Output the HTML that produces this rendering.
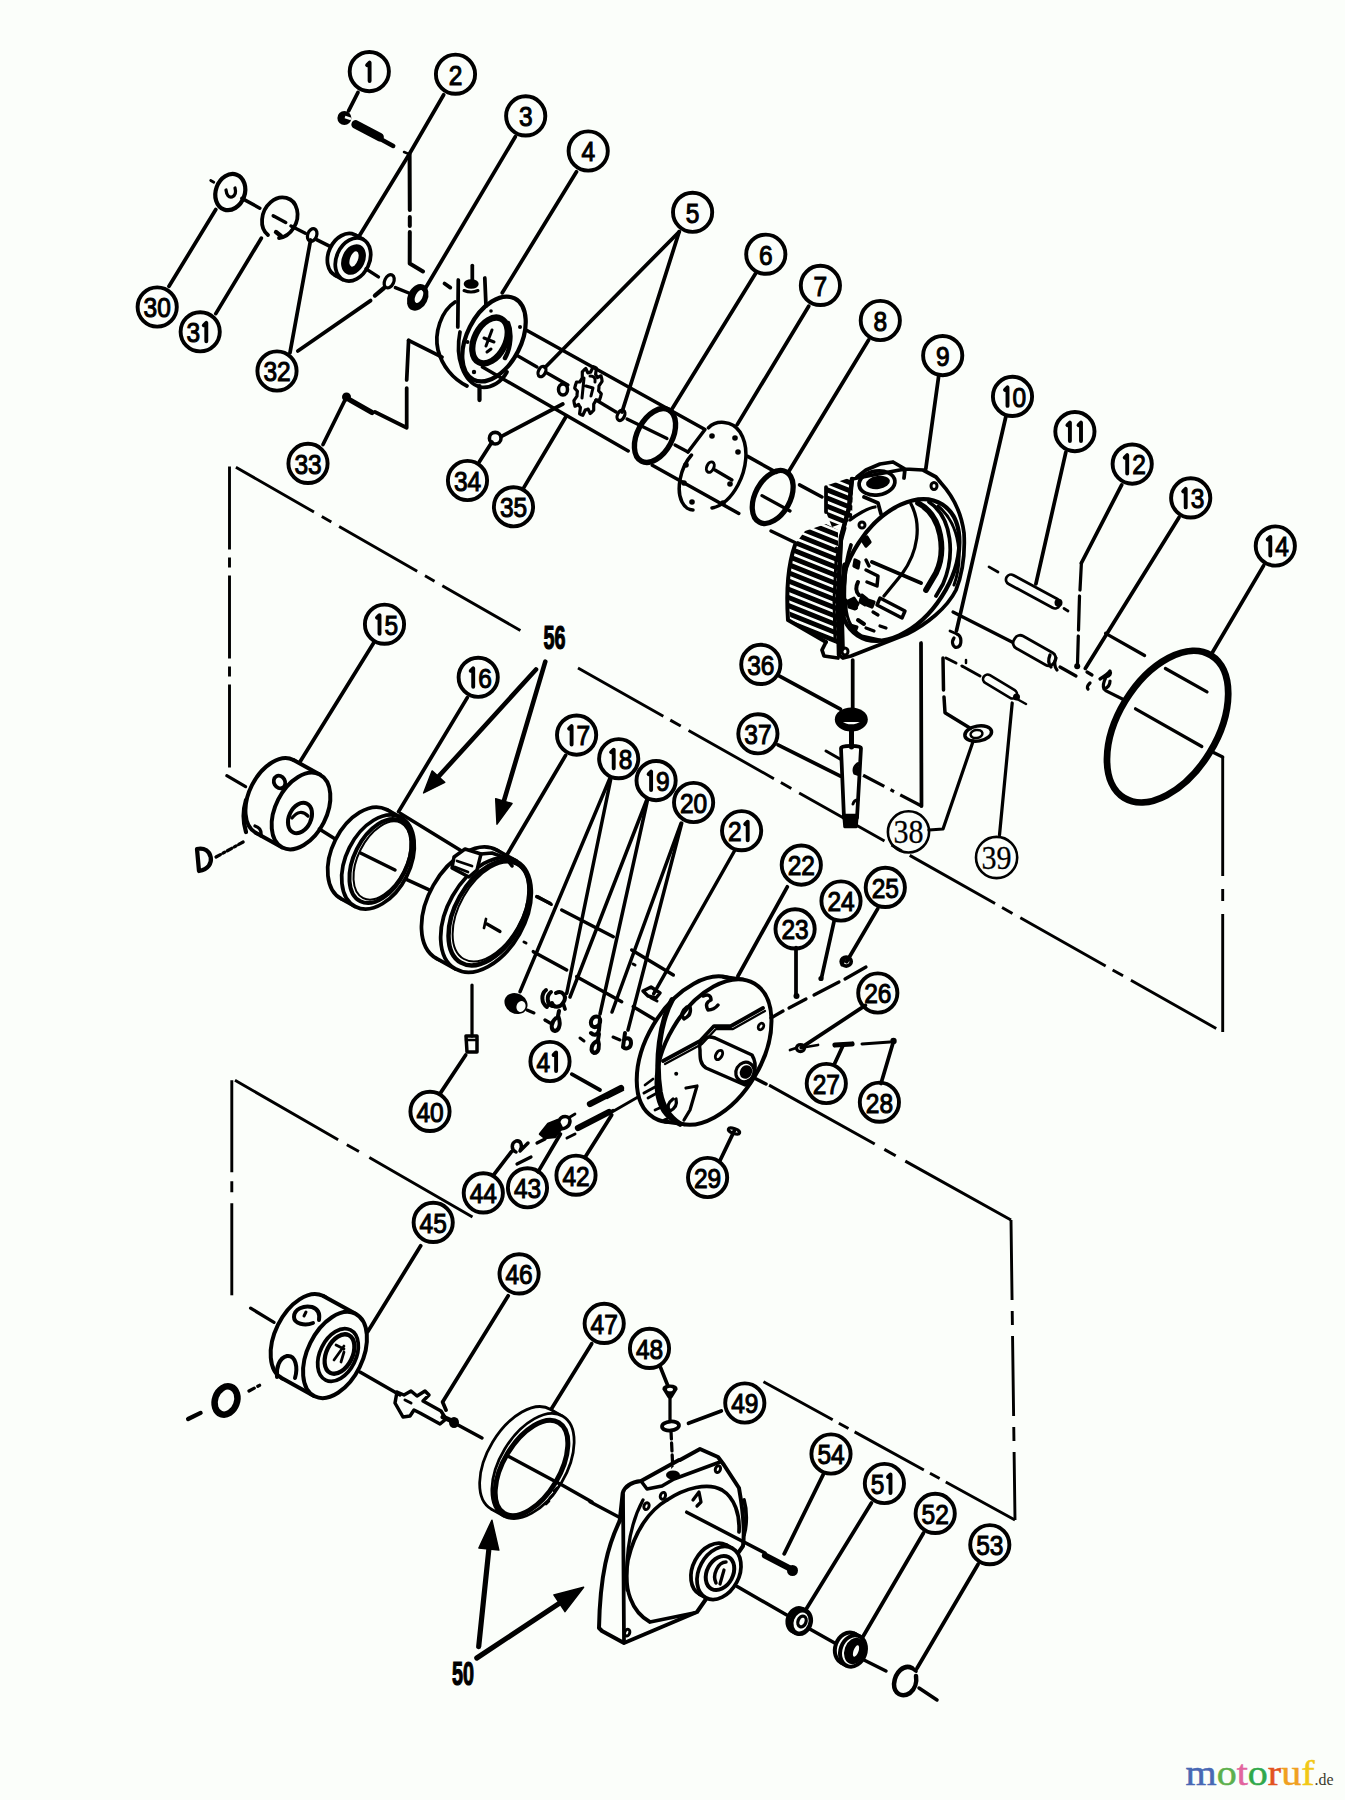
<!DOCTYPE html>
<html><head><meta charset="utf-8"><title>Parts diagram</title>
<style>html,body{margin:0;padding:0;background:#fbfefa;}svg{display:block}</style></head>
<body><svg width="1345" height="1800" viewBox="0 0 1345 1800">
<circle cx="369.3" cy="71.6" r="19.6" fill="none" stroke="#000" stroke-width="3.9"/>
<path d="M367.1,65.1 L369.6,62.6 L369.6,81.1" fill="none" stroke="#000" stroke-width="3.9" stroke-linecap="round" stroke-linejoin="round"/>
<circle cx="455.5" cy="74.2" r="19.6" fill="none" stroke="#000" stroke-width="3.9"/>
<text transform="translate(455.5,84.5) scale(0.86,1)" font-family="Liberation Sans" font-size="28.5" text-anchor="middle" stroke="#000" stroke-width="1.1">2</text>
<circle cx="525.7" cy="115.9" r="19.6" fill="none" stroke="#000" stroke-width="3.9"/>
<text transform="translate(525.7,126.2) scale(0.86,1)" font-family="Liberation Sans" font-size="28.5" text-anchor="middle" stroke="#000" stroke-width="1.1">3</text>
<circle cx="588.2" cy="151" r="19.6" fill="none" stroke="#000" stroke-width="3.9"/>
<text transform="translate(588.2,161.3) scale(0.86,1)" font-family="Liberation Sans" font-size="28.5" text-anchor="middle" stroke="#000" stroke-width="1.1">4</text>
<circle cx="692.6" cy="212.3" r="19.6" fill="none" stroke="#000" stroke-width="3.9"/>
<text transform="translate(692.6,222.6) scale(0.86,1)" font-family="Liberation Sans" font-size="28.5" text-anchor="middle" stroke="#000" stroke-width="1.1">5</text>
<circle cx="765.8" cy="254.2" r="19.6" fill="none" stroke="#000" stroke-width="3.9"/>
<text transform="translate(765.8,264.5) scale(0.86,1)" font-family="Liberation Sans" font-size="28.5" text-anchor="middle" stroke="#000" stroke-width="1.1">6</text>
<circle cx="820.4" cy="285.4" r="19.6" fill="none" stroke="#000" stroke-width="3.9"/>
<text transform="translate(820.4,295.7) scale(0.86,1)" font-family="Liberation Sans" font-size="28.5" text-anchor="middle" stroke="#000" stroke-width="1.1">7</text>
<circle cx="880.3" cy="320.5" r="19.6" fill="none" stroke="#000" stroke-width="3.9"/>
<text transform="translate(880.3,330.8) scale(0.86,1)" font-family="Liberation Sans" font-size="28.5" text-anchor="middle" stroke="#000" stroke-width="1.1">8</text>
<circle cx="942.7" cy="355.6" r="19.6" fill="none" stroke="#000" stroke-width="3.9"/>
<text transform="translate(942.7,365.9) scale(0.86,1)" font-family="Liberation Sans" font-size="28.5" text-anchor="middle" stroke="#000" stroke-width="1.1">9</text>
<circle cx="1012.5" cy="396.4" r="19.6" fill="none" stroke="#000" stroke-width="3.9"/>
<path d="M1005.0,389.9 L1007.5,387.4 L1007.5,405.9" fill="none" stroke="#000" stroke-width="3.9" stroke-linecap="round" stroke-linejoin="round"/>
<text transform="translate(1019.3,406.7) scale(0.86,1)" font-family="Liberation Sans" font-size="28.5" text-anchor="middle" stroke="#000" stroke-width="1.1">0</text>
<circle cx="1074.9" cy="431.6" r="19.6" fill="none" stroke="#000" stroke-width="3.9"/>
<path d="M1067.4,425.1 L1069.9,422.6 L1069.9,441.1" fill="none" stroke="#000" stroke-width="3.9" stroke-linecap="round" stroke-linejoin="round"/>
<path d="M1078.5,425.1 L1081.0,422.6 L1081.0,441.1" fill="none" stroke="#000" stroke-width="3.9" stroke-linecap="round" stroke-linejoin="round"/>
<circle cx="1132.2" cy="464.1" r="19.6" fill="none" stroke="#000" stroke-width="3.9"/>
<path d="M1124.7,457.6 L1127.2,455.1 L1127.2,473.6" fill="none" stroke="#000" stroke-width="3.9" stroke-linecap="round" stroke-linejoin="round"/>
<text transform="translate(1139.0,474.4) scale(0.86,1)" font-family="Liberation Sans" font-size="28.5" text-anchor="middle" stroke="#000" stroke-width="1.1">2</text>
<circle cx="1190.7" cy="497.9" r="19.6" fill="none" stroke="#000" stroke-width="3.9"/>
<path d="M1183.2,491.4 L1185.7,488.9 L1185.7,507.4" fill="none" stroke="#000" stroke-width="3.9" stroke-linecap="round" stroke-linejoin="round"/>
<text transform="translate(1197.5,508.2) scale(0.86,1)" font-family="Liberation Sans" font-size="28.5" text-anchor="middle" stroke="#000" stroke-width="1.1">3</text>
<circle cx="1275.3" cy="546" r="19.6" fill="none" stroke="#000" stroke-width="3.9"/>
<path d="M1267.8,539.5 L1270.3,537.0 L1270.3,555.5" fill="none" stroke="#000" stroke-width="3.9" stroke-linecap="round" stroke-linejoin="round"/>
<text transform="translate(1282.1,556.3) scale(0.86,1)" font-family="Liberation Sans" font-size="28.5" text-anchor="middle" stroke="#000" stroke-width="1.1">4</text>
<circle cx="384.5" cy="624.2" r="19.6" fill="none" stroke="#000" stroke-width="3.9"/>
<path d="M377.0,617.7 L379.5,615.2 L379.5,633.7" fill="none" stroke="#000" stroke-width="3.9" stroke-linecap="round" stroke-linejoin="round"/>
<text transform="translate(391.3,634.5) scale(0.86,1)" font-family="Liberation Sans" font-size="28.5" text-anchor="middle" stroke="#000" stroke-width="1.1">5</text>
<circle cx="478.2" cy="677.3" r="19.6" fill="none" stroke="#000" stroke-width="3.9"/>
<path d="M470.7,670.8 L473.2,668.3 L473.2,686.8" fill="none" stroke="#000" stroke-width="3.9" stroke-linecap="round" stroke-linejoin="round"/>
<text transform="translate(485.0,687.6) scale(0.86,1)" font-family="Liberation Sans" font-size="28.5" text-anchor="middle" stroke="#000" stroke-width="1.1">6</text>
<circle cx="576.6" cy="735.1" r="19.6" fill="none" stroke="#000" stroke-width="3.9"/>
<path d="M569.1,728.6 L571.6,726.1 L571.6,744.6" fill="none" stroke="#000" stroke-width="3.9" stroke-linecap="round" stroke-linejoin="round"/>
<text transform="translate(583.4,745.4) scale(0.86,1)" font-family="Liberation Sans" font-size="28.5" text-anchor="middle" stroke="#000" stroke-width="1.1">7</text>
<circle cx="618.7" cy="758.7" r="19.6" fill="none" stroke="#000" stroke-width="3.9"/>
<path d="M611.2,752.2 L613.7,749.7 L613.7,768.2" fill="none" stroke="#000" stroke-width="3.9" stroke-linecap="round" stroke-linejoin="round"/>
<text transform="translate(625.5,769.0) scale(0.86,1)" font-family="Liberation Sans" font-size="28.5" text-anchor="middle" stroke="#000" stroke-width="1.1">8</text>
<circle cx="656.1" cy="780.6" r="19.6" fill="none" stroke="#000" stroke-width="3.9"/>
<path d="M648.6,774.1 L651.1,771.6 L651.1,790.1" fill="none" stroke="#000" stroke-width="3.9" stroke-linecap="round" stroke-linejoin="round"/>
<text transform="translate(662.9,790.9) scale(0.86,1)" font-family="Liberation Sans" font-size="28.5" text-anchor="middle" stroke="#000" stroke-width="1.1">9</text>
<circle cx="693.6" cy="802.5" r="19.6" fill="none" stroke="#000" stroke-width="3.9"/>
<text transform="translate(686.8,812.8) scale(0.86,1)" font-family="Liberation Sans" font-size="28.5" text-anchor="middle" stroke="#000" stroke-width="1.1">2</text>
<text transform="translate(700.4,812.8) scale(0.86,1)" font-family="Liberation Sans" font-size="28.5" text-anchor="middle" stroke="#000" stroke-width="1.1">0</text>
<circle cx="741.6" cy="830.7" r="19.6" fill="none" stroke="#000" stroke-width="3.9"/>
<text transform="translate(734.8,841.0) scale(0.86,1)" font-family="Liberation Sans" font-size="28.5" text-anchor="middle" stroke="#000" stroke-width="1.1">2</text>
<path d="M745.2,824.2 L747.7,821.7 L747.7,840.2" fill="none" stroke="#000" stroke-width="3.9" stroke-linecap="round" stroke-linejoin="round"/>
<circle cx="801.3" cy="865.1" r="19.6" fill="none" stroke="#000" stroke-width="3.9"/>
<text transform="translate(794.5,875.4) scale(0.86,1)" font-family="Liberation Sans" font-size="28.5" text-anchor="middle" stroke="#000" stroke-width="1.1">2</text>
<text transform="translate(808.1,875.4) scale(0.86,1)" font-family="Liberation Sans" font-size="28.5" text-anchor="middle" stroke="#000" stroke-width="1.1">2</text>
<circle cx="795.1" cy="928.9" r="19.6" fill="none" stroke="#000" stroke-width="3.9"/>
<text transform="translate(788.3,939.2) scale(0.86,1)" font-family="Liberation Sans" font-size="28.5" text-anchor="middle" stroke="#000" stroke-width="1.1">2</text>
<text transform="translate(801.9,939.2) scale(0.86,1)" font-family="Liberation Sans" font-size="28.5" text-anchor="middle" stroke="#000" stroke-width="1.1">3</text>
<circle cx="841" cy="901" r="19.6" fill="none" stroke="#000" stroke-width="3.9"/>
<text transform="translate(834.2,911.3) scale(0.86,1)" font-family="Liberation Sans" font-size="28.5" text-anchor="middle" stroke="#000" stroke-width="1.1">2</text>
<text transform="translate(847.8,911.3) scale(0.86,1)" font-family="Liberation Sans" font-size="28.5" text-anchor="middle" stroke="#000" stroke-width="1.1">4</text>
<circle cx="885.3" cy="887.4" r="19.6" fill="none" stroke="#000" stroke-width="3.9"/>
<text transform="translate(878.5,897.7) scale(0.86,1)" font-family="Liberation Sans" font-size="28.5" text-anchor="middle" stroke="#000" stroke-width="1.1">2</text>
<text transform="translate(892.1,897.7) scale(0.86,1)" font-family="Liberation Sans" font-size="28.5" text-anchor="middle" stroke="#000" stroke-width="1.1">5</text>
<circle cx="877.8" cy="993" r="19.6" fill="none" stroke="#000" stroke-width="3.9"/>
<text transform="translate(871.0,1003.3) scale(0.86,1)" font-family="Liberation Sans" font-size="28.5" text-anchor="middle" stroke="#000" stroke-width="1.1">2</text>
<text transform="translate(884.6,1003.3) scale(0.86,1)" font-family="Liberation Sans" font-size="28.5" text-anchor="middle" stroke="#000" stroke-width="1.1">6</text>
<circle cx="826.3" cy="1083.5" r="19.6" fill="none" stroke="#000" stroke-width="3.9"/>
<text transform="translate(819.5,1093.8) scale(0.86,1)" font-family="Liberation Sans" font-size="28.5" text-anchor="middle" stroke="#000" stroke-width="1.1">2</text>
<text transform="translate(833.1,1093.8) scale(0.86,1)" font-family="Liberation Sans" font-size="28.5" text-anchor="middle" stroke="#000" stroke-width="1.1">7</text>
<circle cx="879.4" cy="1102.2" r="19.6" fill="none" stroke="#000" stroke-width="3.9"/>
<text transform="translate(872.6,1112.5) scale(0.86,1)" font-family="Liberation Sans" font-size="28.5" text-anchor="middle" stroke="#000" stroke-width="1.1">2</text>
<text transform="translate(886.2,1112.5) scale(0.86,1)" font-family="Liberation Sans" font-size="28.5" text-anchor="middle" stroke="#000" stroke-width="1.1">8</text>
<circle cx="707.6" cy="1177.5" r="19.6" fill="none" stroke="#000" stroke-width="3.9"/>
<text transform="translate(700.8,1187.8) scale(0.86,1)" font-family="Liberation Sans" font-size="28.5" text-anchor="middle" stroke="#000" stroke-width="1.1">2</text>
<text transform="translate(714.4,1187.8) scale(0.86,1)" font-family="Liberation Sans" font-size="28.5" text-anchor="middle" stroke="#000" stroke-width="1.1">9</text>
<circle cx="157.2" cy="307" r="19.6" fill="none" stroke="#000" stroke-width="3.9"/>
<text transform="translate(150.4,317.3) scale(0.86,1)" font-family="Liberation Sans" font-size="28.5" text-anchor="middle" stroke="#000" stroke-width="1.1">3</text>
<text transform="translate(164.0,317.3) scale(0.86,1)" font-family="Liberation Sans" font-size="28.5" text-anchor="middle" stroke="#000" stroke-width="1.1">0</text>
<circle cx="200.2" cy="331.8" r="19.6" fill="none" stroke="#000" stroke-width="3.9"/>
<text transform="translate(193.4,342.1) scale(0.86,1)" font-family="Liberation Sans" font-size="28.5" text-anchor="middle" stroke="#000" stroke-width="1.1">3</text>
<path d="M203.8,325.3 L206.3,322.8 L206.3,341.3" fill="none" stroke="#000" stroke-width="3.9" stroke-linecap="round" stroke-linejoin="round"/>
<circle cx="277" cy="371" r="19.6" fill="none" stroke="#000" stroke-width="3.9"/>
<text transform="translate(270.2,381.3) scale(0.86,1)" font-family="Liberation Sans" font-size="28.5" text-anchor="middle" stroke="#000" stroke-width="1.1">3</text>
<text transform="translate(283.8,381.3) scale(0.86,1)" font-family="Liberation Sans" font-size="28.5" text-anchor="middle" stroke="#000" stroke-width="1.1">2</text>
<circle cx="308" cy="463.4" r="19.6" fill="none" stroke="#000" stroke-width="3.9"/>
<text transform="translate(301.2,473.7) scale(0.86,1)" font-family="Liberation Sans" font-size="28.5" text-anchor="middle" stroke="#000" stroke-width="1.1">3</text>
<text transform="translate(314.8,473.7) scale(0.86,1)" font-family="Liberation Sans" font-size="28.5" text-anchor="middle" stroke="#000" stroke-width="1.1">3</text>
<circle cx="467.5" cy="480.5" r="19.6" fill="none" stroke="#000" stroke-width="3.9"/>
<text transform="translate(460.7,490.8) scale(0.86,1)" font-family="Liberation Sans" font-size="28.5" text-anchor="middle" stroke="#000" stroke-width="1.1">3</text>
<text transform="translate(474.3,490.8) scale(0.86,1)" font-family="Liberation Sans" font-size="28.5" text-anchor="middle" stroke="#000" stroke-width="1.1">4</text>
<circle cx="513.5" cy="506.8" r="19.6" fill="none" stroke="#000" stroke-width="3.9"/>
<text transform="translate(506.7,517.1) scale(0.86,1)" font-family="Liberation Sans" font-size="28.5" text-anchor="middle" stroke="#000" stroke-width="1.1">3</text>
<text transform="translate(520.3,517.1) scale(0.86,1)" font-family="Liberation Sans" font-size="28.5" text-anchor="middle" stroke="#000" stroke-width="1.1">5</text>
<circle cx="760.8" cy="664.4" r="19.6" fill="none" stroke="#000" stroke-width="3.9"/>
<text transform="translate(754.0,674.7) scale(0.86,1)" font-family="Liberation Sans" font-size="28.5" text-anchor="middle" stroke="#000" stroke-width="1.1">3</text>
<text transform="translate(767.6,674.7) scale(0.86,1)" font-family="Liberation Sans" font-size="28.5" text-anchor="middle" stroke="#000" stroke-width="1.1">6</text>
<circle cx="757.9" cy="733.8" r="19.6" fill="none" stroke="#000" stroke-width="3.9"/>
<text transform="translate(751.1,744.1) scale(0.86,1)" font-family="Liberation Sans" font-size="28.5" text-anchor="middle" stroke="#000" stroke-width="1.1">3</text>
<text transform="translate(764.7,744.1) scale(0.86,1)" font-family="Liberation Sans" font-size="28.5" text-anchor="middle" stroke="#000" stroke-width="1.1">7</text>
<circle cx="430" cy="1111.4" r="19.6" fill="none" stroke="#000" stroke-width="3.9"/>
<text transform="translate(423.2,1121.7) scale(0.86,1)" font-family="Liberation Sans" font-size="28.5" text-anchor="middle" stroke="#000" stroke-width="1.1">4</text>
<text transform="translate(436.8,1121.7) scale(0.86,1)" font-family="Liberation Sans" font-size="28.5" text-anchor="middle" stroke="#000" stroke-width="1.1">0</text>
<circle cx="550" cy="1061.5" r="19.6" fill="none" stroke="#000" stroke-width="3.9"/>
<text transform="translate(543.2,1071.8) scale(0.86,1)" font-family="Liberation Sans" font-size="28.5" text-anchor="middle" stroke="#000" stroke-width="1.1">4</text>
<path d="M553.6,1055.0 L556.1,1052.5 L556.1,1071.0" fill="none" stroke="#000" stroke-width="3.9" stroke-linecap="round" stroke-linejoin="round"/>
<circle cx="576" cy="1175.2" r="19.6" fill="none" stroke="#000" stroke-width="3.9"/>
<text transform="translate(569.2,1185.5) scale(0.86,1)" font-family="Liberation Sans" font-size="28.5" text-anchor="middle" stroke="#000" stroke-width="1.1">4</text>
<text transform="translate(582.8,1185.5) scale(0.86,1)" font-family="Liberation Sans" font-size="28.5" text-anchor="middle" stroke="#000" stroke-width="1.1">2</text>
<circle cx="527.5" cy="1187.8" r="19.6" fill="none" stroke="#000" stroke-width="3.9"/>
<text transform="translate(520.7,1198.1) scale(0.86,1)" font-family="Liberation Sans" font-size="28.5" text-anchor="middle" stroke="#000" stroke-width="1.1">4</text>
<text transform="translate(534.3,1198.1) scale(0.86,1)" font-family="Liberation Sans" font-size="28.5" text-anchor="middle" stroke="#000" stroke-width="1.1">3</text>
<circle cx="483.3" cy="1192.9" r="19.6" fill="none" stroke="#000" stroke-width="3.9"/>
<text transform="translate(476.5,1203.2) scale(0.86,1)" font-family="Liberation Sans" font-size="28.5" text-anchor="middle" stroke="#000" stroke-width="1.1">4</text>
<text transform="translate(490.1,1203.2) scale(0.86,1)" font-family="Liberation Sans" font-size="28.5" text-anchor="middle" stroke="#000" stroke-width="1.1">4</text>
<circle cx="433.2" cy="1222.4" r="19.6" fill="none" stroke="#000" stroke-width="3.9"/>
<text transform="translate(426.4,1232.7) scale(0.86,1)" font-family="Liberation Sans" font-size="28.5" text-anchor="middle" stroke="#000" stroke-width="1.1">4</text>
<text transform="translate(440.0,1232.7) scale(0.86,1)" font-family="Liberation Sans" font-size="28.5" text-anchor="middle" stroke="#000" stroke-width="1.1">5</text>
<circle cx="519.1" cy="1273.9" r="19.6" fill="none" stroke="#000" stroke-width="3.9"/>
<text transform="translate(512.3,1284.2) scale(0.86,1)" font-family="Liberation Sans" font-size="28.5" text-anchor="middle" stroke="#000" stroke-width="1.1">4</text>
<text transform="translate(525.9,1284.2) scale(0.86,1)" font-family="Liberation Sans" font-size="28.5" text-anchor="middle" stroke="#000" stroke-width="1.1">6</text>
<circle cx="604.2" cy="1323.4" r="19.6" fill="none" stroke="#000" stroke-width="3.9"/>
<text transform="translate(597.4,1333.7) scale(0.86,1)" font-family="Liberation Sans" font-size="28.5" text-anchor="middle" stroke="#000" stroke-width="1.1">4</text>
<text transform="translate(611.0,1333.7) scale(0.86,1)" font-family="Liberation Sans" font-size="28.5" text-anchor="middle" stroke="#000" stroke-width="1.1">7</text>
<circle cx="649.5" cy="1348.4" r="19.6" fill="none" stroke="#000" stroke-width="3.9"/>
<text transform="translate(642.7,1358.7) scale(0.86,1)" font-family="Liberation Sans" font-size="28.5" text-anchor="middle" stroke="#000" stroke-width="1.1">4</text>
<text transform="translate(656.3,1358.7) scale(0.86,1)" font-family="Liberation Sans" font-size="28.5" text-anchor="middle" stroke="#000" stroke-width="1.1">8</text>
<circle cx="744.8" cy="1403" r="19.6" fill="none" stroke="#000" stroke-width="3.9"/>
<text transform="translate(738.0,1413.3) scale(0.86,1)" font-family="Liberation Sans" font-size="28.5" text-anchor="middle" stroke="#000" stroke-width="1.1">4</text>
<text transform="translate(751.6,1413.3) scale(0.86,1)" font-family="Liberation Sans" font-size="28.5" text-anchor="middle" stroke="#000" stroke-width="1.1">9</text>
<circle cx="831" cy="1454" r="19.6" fill="none" stroke="#000" stroke-width="3.9"/>
<text transform="translate(824.2,1464.3) scale(0.86,1)" font-family="Liberation Sans" font-size="28.5" text-anchor="middle" stroke="#000" stroke-width="1.1">5</text>
<text transform="translate(837.8,1464.3) scale(0.86,1)" font-family="Liberation Sans" font-size="28.5" text-anchor="middle" stroke="#000" stroke-width="1.1">4</text>
<circle cx="884.4" cy="1483.5" r="19.6" fill="none" stroke="#000" stroke-width="3.9"/>
<text transform="translate(877.6,1493.8) scale(0.86,1)" font-family="Liberation Sans" font-size="28.5" text-anchor="middle" stroke="#000" stroke-width="1.1">5</text>
<path d="M888.0,1477.0 L890.5,1474.5 L890.5,1493.0" fill="none" stroke="#000" stroke-width="3.9" stroke-linecap="round" stroke-linejoin="round"/>
<circle cx="935.2" cy="1513.4" r="19.6" fill="none" stroke="#000" stroke-width="3.9"/>
<text transform="translate(928.4,1523.7) scale(0.86,1)" font-family="Liberation Sans" font-size="28.5" text-anchor="middle" stroke="#000" stroke-width="1.1">5</text>
<text transform="translate(942.0,1523.7) scale(0.86,1)" font-family="Liberation Sans" font-size="28.5" text-anchor="middle" stroke="#000" stroke-width="1.1">2</text>
<circle cx="989.8" cy="1544.7" r="19.6" fill="none" stroke="#000" stroke-width="3.9"/>
<text transform="translate(983.0,1555.0) scale(0.86,1)" font-family="Liberation Sans" font-size="28.5" text-anchor="middle" stroke="#000" stroke-width="1.1">5</text>
<text transform="translate(996.6,1555.0) scale(0.86,1)" font-family="Liberation Sans" font-size="28.5" text-anchor="middle" stroke="#000" stroke-width="1.1">3</text>
<circle cx="908.5" cy="831.9" r="20.6" fill="none" stroke="#000" stroke-width="2.6"/>
<text x="908.5" y="843.4" font-family="Liberation Serif" font-size="34" text-anchor="middle" stroke="#000" stroke-width="0.3" textLength="30" lengthAdjust="spacingAndGlyphs">38</text>
<circle cx="996.6" cy="857.5" r="20.6" fill="none" stroke="#000" stroke-width="2.6"/>
<text x="996.6" y="869.0" font-family="Liberation Serif" font-size="34" text-anchor="middle" stroke="#000" stroke-width="0.3" textLength="30" lengthAdjust="spacingAndGlyphs">39</text>
<text x="554.5" y="649" font-family="Liberation Sans" font-weight="bold" font-size="32.5" text-anchor="middle" stroke="#000" stroke-width="1.2" textLength="22" lengthAdjust="spacingAndGlyphs">56</text>
<text x="462.9" y="1684.5" font-family="Liberation Sans" font-weight="bold" font-size="32.5" text-anchor="middle" stroke="#000" stroke-width="1.2" textLength="22" lengthAdjust="spacingAndGlyphs">50</text>
<text x="1185.5" y="1785" font-family="Liberation Serif" font-size="36.5" stroke-width="0.5" textLength="129" lengthAdjust="spacingAndGlyphs"><tspan fill="#4868b4" stroke="#4868b4">m</tspan><tspan fill="#5cb04c" stroke="#5cb04c">o</tspan><tspan fill="#e2649e" stroke="#e2649e">t</tspan><tspan fill="#2fa84a" stroke="#2fa84a">o</tspan><tspan fill="#e2541e" stroke="#e2541e">r</tspan><tspan fill="#f0a020" stroke="#f0a020">u</tspan><tspan fill="#f2c814" stroke="#f2c814">f</tspan></text>
<text x="1314.5" y="1785" font-family="Liberation Serif" font-size="16.5" fill="#3a3a2a" textLength="19" lengthAdjust="spacingAndGlyphs">.de</text>
<polyline points="358,92.4 348.6,110.8" fill="none" stroke="#000" stroke-width="3.75" stroke-linecap="round" stroke-linejoin="round"/>
<circle cx="344.4" cy="118" r="7" fill="#000"/>
<path d="M345,117 L351,119" stroke="#fbfefa" stroke-width="2.5"/>
<polyline points="355.7,124.5 379.5,137" fill="none" stroke="#000" stroke-width="8.75" stroke-linecap="round" stroke-linejoin="round"/>
<polyline points="379.5,138.5 393.2,145.9" fill="none" stroke="#000" stroke-width="4.50" stroke-linecap="round" stroke-linejoin="round"/>
<polyline points="443.7,94.8 409.2,154.2 358.8,236.7" fill="none" stroke="#000" stroke-width="3.75" stroke-linecap="round" stroke-linejoin="round"/>
<polyline points="404,152 409.2,154.2" fill="none" stroke="#000" stroke-width="2.50" stroke-linecap="round" stroke-linejoin="round"/>
<polyline points="409.6,154.2 409.8,210" fill="none" stroke="#000" stroke-width="4.00" stroke-linecap="round" stroke-linejoin="round"/>
<polyline points="409.8,217 409.8,226" fill="none" stroke="#000" stroke-width="4.00" stroke-linecap="round" stroke-linejoin="round"/>
<polyline points="409.8,232 409.7,263.5 423,271.5" fill="none" stroke="#000" stroke-width="4.00" stroke-linecap="round" stroke-linejoin="round"/>
<polyline points="444.5,283.5 450.3,287.6" fill="none" stroke="#000" stroke-width="3.75" stroke-linecap="round" stroke-linejoin="round"/>
<ellipse cx="230.3" cy="192.1" rx="14.5" ry="18.5" transform="rotate(20 230.3 192.1)" fill="none" stroke="#000" stroke-width="4.25"/>
<path d="M226,190 q1,8 6,7 q5,-2 3,-9" fill="none" stroke="#000" stroke-width="3.25" stroke-linecap="round" stroke-linejoin="round"/>
<polyline points="210.7,180.5 213.8,182.3" fill="none" stroke="#000" stroke-width="2.75" stroke-linecap="round" stroke-linejoin="round"/>
<polyline points="241.9,198.4 259.8,208.2" fill="none" stroke="#000" stroke-width="3.50" stroke-linecap="round" stroke-linejoin="round"/>
<path d="M268,235 A17,21 25 1 1 279,238" fill="none" stroke="#000" stroke-width="3.8" stroke-linecap="round" transform="rotate(0)"/>
<polyline points="273.2,215.8 285.7,222.5" fill="none" stroke="#000" stroke-width="3.50" stroke-linecap="round" stroke-linejoin="round"/>
<polyline points="276,232 281,236" fill="none" stroke="#000" stroke-width="4.38" stroke-linecap="round" stroke-linejoin="round"/>
<polyline points="291,226 305.3,233.2" fill="none" stroke="#000" stroke-width="3.50" stroke-linecap="round" stroke-linejoin="round"/>
<ellipse cx="312.2" cy="235" rx="4.5" ry="6.5" transform="rotate(20 312.2 235)" fill="none" stroke="#000" stroke-width="3.25"/>
<polyline points="316,239.4 332,247.4" fill="none" stroke="#000" stroke-width="3.50" stroke-linecap="round" stroke-linejoin="round"/>
<ellipse cx="345.1" cy="255.1" rx="16.5" ry="22.5" transform="rotate(25 345.1 255.1)" fill="#fbfefa" stroke="#000" stroke-width="3.75"/>
<polygon points="363.3,239.5 342.7,279.5 334.9,275.1 355.4,235.1" fill="#fbfefa" stroke="none"/>
<path d="M363.3,239.5 L355.4,235.1 M342.7,279.5 L334.9,275.1" stroke="#000" stroke-width="3.75" stroke-linecap="round"/>
<ellipse cx="353" cy="259.5" rx="16.5" ry="22.5" transform="rotate(25 353 259.5)" fill="#fbfefa" stroke="#000" stroke-width="3.75"/>
<ellipse cx="353.5" cy="259.5" rx="11.5" ry="16" transform="rotate(25 353.5 259.5)" fill="#000" stroke="#000" stroke-width="0.00"/>
<ellipse cx="354" cy="259" rx="4" ry="8" transform="rotate(20 354 259)" fill="#fbfefa" stroke="#000" stroke-width="0.00"/>
<polyline points="366,268.9 378.4,276.9" fill="none" stroke="#000" stroke-width="3.50" stroke-linecap="round" stroke-linejoin="round"/>
<ellipse cx="389.2" cy="281.3" rx="4.5" ry="7" transform="rotate(25 389.2 281.3)" fill="none" stroke="#000" stroke-width="3.25"/>
<polyline points="384,288 374.9,295.6" fill="none" stroke="#000" stroke-width="4.25" stroke-linecap="round" stroke-linejoin="round"/>
<polyline points="395.4,287.6 408.8,293" fill="none" stroke="#000" stroke-width="3.50" stroke-linecap="round" stroke-linejoin="round"/>
<ellipse cx="417.7" cy="297.4" rx="10" ry="14" transform="rotate(25 417.7 297.4)" fill="#000" stroke="#000" stroke-width="0.00"/>
<ellipse cx="419" cy="296.5" rx="3.5" ry="7" transform="rotate(25 419 296.5)" fill="#fbfefa" stroke="#000" stroke-width="0.00"/>
<polyline points="169,286.3 215.8,209.5" fill="none" stroke="#000" stroke-width="3.75" stroke-linecap="round" stroke-linejoin="round"/>
<polyline points="215.8,313.6 261.3,238.2" fill="none" stroke="#000" stroke-width="3.75" stroke-linecap="round" stroke-linejoin="round"/>
<polyline points="290,352.7 310.6,240" fill="none" stroke="#000" stroke-width="3.75" stroke-linecap="round" stroke-linejoin="round"/>
<polyline points="297.8,351 370.6,300.6" fill="none" stroke="#000" stroke-width="3.75" stroke-linecap="round" stroke-linejoin="round"/>
<polyline points="515.3,136.7 424.2,290.2" fill="none" stroke="#000" stroke-width="3.75" stroke-linecap="round" stroke-linejoin="round"/>
<polyline points="472.3,265.5 472.3,281" fill="none" stroke="#000" stroke-width="3.75" stroke-linecap="round" stroke-linejoin="round"/>
<ellipse cx="471.2" cy="284" rx="7.5" ry="4.8" transform="rotate(0 471.2 284)" fill="#000" stroke="#000" stroke-width="0.00"/>
<path d="M464,290.5 Q471,293.5 478,290.5" fill="none" stroke="#000" stroke-width="3.00" stroke-linecap="round" stroke-linejoin="round"/>
<polyline points="458.3,280 457.8,327" fill="none" stroke="#000" stroke-width="3.75" stroke-linecap="round" stroke-linejoin="round"/>
<polyline points="484.8,278 486,306" fill="none" stroke="#000" stroke-width="3.75" stroke-linecap="round" stroke-linejoin="round"/>
<path d="M455,302 C441,311 434,333 438,350 C442,366 453,379 467,386" fill="none" stroke="#000" stroke-width="3.75" stroke-linecap="round" stroke-linejoin="round"/>
<path d="M460,332 C455,357 463,382 480,387 C492,389 502,381 507,372" fill="none" stroke="#000" stroke-width="3.75" stroke-linecap="round" stroke-linejoin="round"/>
<ellipse cx="494" cy="339" rx="27" ry="45.5" transform="rotate(27 494 339)" fill="none" stroke="#000" stroke-width="4.25"/>
<ellipse cx="490" cy="340.5" rx="15.5" ry="24.5" transform="rotate(27 490 340.5)" fill="none" stroke="#000" stroke-width="6.25"/>
<path d="M486,346 l6,-16 M484,338 l10,4 M487,352 l4,-3" fill="none" stroke="#000" stroke-width="3.00" stroke-linecap="round" stroke-linejoin="round"/>
<path d="M508,323 C512,332 511,348 505,358" fill="none" stroke="#000" stroke-width="4.50" stroke-linecap="round" stroke-linejoin="round"/>
<circle cx="491" cy="311" r="1.8" fill="#000"/><circle cx="467.5" cy="342" r="2" fill="#000"/><circle cx="520" cy="327" r="2" fill="#000"/><circle cx="474" cy="372" r="2.2" fill="#000"/>
<polyline points="479.5,386 479.5,400" fill="none" stroke="#000" stroke-width="4.25" stroke-linecap="round" stroke-linejoin="round"/>
<polyline points="527,330.5 705,429.5 688,452" fill="none" stroke="#000" stroke-width="3.50" stroke-linecap="round" stroke-linejoin="round"/>
<polyline points="747.7,456.4 776.3,472.4" fill="none" stroke="#000" stroke-width="3.50" stroke-linecap="round" stroke-linejoin="round"/>
<polyline points="799.5,484.9 822,497" fill="none" stroke="#000" stroke-width="3.50" stroke-linecap="round" stroke-linejoin="round"/>
<polyline points="482.5,367.1 628.2,451" fill="none" stroke="#000" stroke-width="3.50" stroke-linecap="round" stroke-linejoin="round"/>
<polyline points="652.3,465.3 738.8,513.5" fill="none" stroke="#000" stroke-width="3.50" stroke-linecap="round" stroke-linejoin="round"/>
<polyline points="518,356 537,367" fill="none" stroke="#000" stroke-width="3.25" stroke-linecap="round" stroke-linejoin="round"/>
<polyline points="547,373 568,385" fill="none" stroke="#000" stroke-width="3.25" stroke-linecap="round" stroke-linejoin="round"/>
<polyline points="596,400 616,412" fill="none" stroke="#000" stroke-width="3.25" stroke-linecap="round" stroke-linejoin="round"/>
<polyline points="627,419 667,438.5" fill="none" stroke="#000" stroke-width="3.25" stroke-linecap="round" stroke-linejoin="round"/>
<polyline points="675,445 688,452" fill="none" stroke="#000" stroke-width="3.25" stroke-linecap="round" stroke-linejoin="round"/>
<polyline points="715,470 732,480" fill="none" stroke="#000" stroke-width="3.25" stroke-linecap="round" stroke-linejoin="round"/>
<polyline points="762,495.6 790,511" fill="none" stroke="#000" stroke-width="3.25" stroke-linecap="round" stroke-linejoin="round"/>
<ellipse cx="542" cy="371.5" rx="3.5" ry="5.5" transform="rotate(25 542 371.5)" fill="none" stroke="#000" stroke-width="3.25"/>
<ellipse cx="621" cy="415.3" rx="3.5" ry="5.5" transform="rotate(25 621 415.3)" fill="none" stroke="#000" stroke-width="3.25"/>
<polygon points="601.3,393.8 600.5,397.0 599.5,400.0 595.9,400.2 594.9,402.2 593.7,404.1 593.7,410.2 592.0,412.0 590.2,413.5 588.2,409.1 586.8,409.6 585.4,409.8 582.8,415.3 581.1,414.7 579.6,413.8 580.4,407.5 579.4,406.1 578.6,404.5 575.0,406.2 574.3,403.6 573.9,400.7 577.0,396.2 577.1,393.7 577.4,391.3 574.7,388.2 575.5,385.0 576.5,382.0 580.1,381.8 581.1,379.8 582.3,377.9 582.3,371.8 584.0,370.0 585.8,368.5 587.8,372.9 589.2,372.4 590.6,372.2 593.2,366.7 594.9,367.3 596.4,368.2 595.6,374.5 596.6,375.9 597.4,377.5 601.0,375.8 601.7,378.4 602.1,381.3 599.0,385.8 598.9,388.3 598.6,390.7" fill="none" stroke="#000" stroke-width="3.2" stroke-linejoin="round"/>
<path d="M584,378 l-2,20 M586,386 l7,2 l-2,8 M590,376 q6,0 5,6" fill="none" stroke="#000" stroke-width="3.00" stroke-linecap="round" stroke-linejoin="round"/>
<ellipse cx="563" cy="389.5" rx="4.5" ry="5.5" transform="rotate(0 563 389.5)" fill="none" stroke="#000" stroke-width="3.50"/>
<circle cx="495.2" cy="438.2" r="5.8" fill="none" stroke="#000" stroke-width="3.6"/>
<polyline points="576.5,171.8 502.3,292.8" fill="none" stroke="#000" stroke-width="3.75" stroke-linecap="round" stroke-linejoin="round"/>
<polyline points="679.2,231.7 545,367.5" fill="none" stroke="#000" stroke-width="3.75" stroke-linecap="round" stroke-linejoin="round"/>
<polyline points="679.2,231.7 622,412" fill="none" stroke="#000" stroke-width="3.75" stroke-linecap="round" stroke-linejoin="round"/>
<polyline points="479.2,462 492,442" fill="none" stroke="#000" stroke-width="3.75" stroke-linecap="round" stroke-linejoin="round"/>
<polyline points="501.5,436.3 562.8,404" fill="none" stroke="#000" stroke-width="3.75" stroke-linecap="round" stroke-linejoin="round"/>
<polyline points="523.8,487.6 566.2,416.2" fill="none" stroke="#000" stroke-width="3.75" stroke-linecap="round" stroke-linejoin="round"/>
<ellipse cx="655" cy="435.5" rx="17.5" ry="29" transform="rotate(28 655 435.5)" fill="none" stroke="#000" stroke-width="5.38"/>
<path d="M708.5,427.8 C716,420 732,420 740,432 C750,448 746,470 738,485 C731,498 722,506 712,508" fill="none" stroke="#000" stroke-width="3.50" stroke-linecap="round" stroke-linejoin="round"/>
<path d="M691.5,455 C680,468 676,490 682,502 C685,508 690,510 693,510" fill="none" stroke="#000" stroke-width="3.50" stroke-linecap="round" stroke-linejoin="round"/>
<ellipse cx="710.3" cy="467.1" rx="3.5" ry="5.5" transform="rotate(25 710.3 467.1)" fill="none" stroke="#000" stroke-width="3.00"/>
<circle cx="712" cy="436" r="2.8" fill="#000"/>
<circle cx="735" cy="438" r="2.8" fill="#000"/>
<circle cx="738" cy="452" r="2.8" fill="#000"/>
<circle cx="730" cy="484" r="2.8" fill="#000"/>
<circle cx="686" cy="465" r="2.8" fill="#000"/>
<circle cx="684" cy="483" r="2.8" fill="#000"/>
<circle cx="692" cy="502" r="2.8" fill="#000"/>
<circle cx="723" cy="503" r="2.8" fill="#000"/>
<ellipse cx="772.7" cy="497" rx="17.5" ry="28.5" transform="rotate(28 772.7 497)" fill="none" stroke="#000" stroke-width="5.25"/>
<polyline points="755.4,273.7 672,409" fill="none" stroke="#000" stroke-width="3.75" stroke-linecap="round" stroke-linejoin="round"/>
<polyline points="808.7,306.2 737.2,424.6" fill="none" stroke="#000" stroke-width="3.75" stroke-linecap="round" stroke-linejoin="round"/>
<polyline points="868.6,340 788,472.7" fill="none" stroke="#000" stroke-width="3.75" stroke-linecap="round" stroke-linejoin="round"/>
<polyline points="408.6,340.4 442,357.1" fill="none" stroke="#000" stroke-width="3.75" stroke-linecap="round" stroke-linejoin="round"/>
<polyline points="408.6,340.4 406.7,380" fill="none" stroke="#000" stroke-width="3.75" stroke-linecap="round" stroke-linejoin="round"/>
<polyline points="406.7,388 406.7,427.8 375,412" fill="none" stroke="#000" stroke-width="3.75" stroke-linecap="round" stroke-linejoin="round"/>
<circle cx="346.5" cy="397" r="4.5" fill="#000"/>
<polyline points="350,400 372,412.5" fill="none" stroke="#000" stroke-width="5.25" stroke-linecap="round" stroke-linejoin="round"/>
<polyline points="323,444.5 345,400" fill="none" stroke="#000" stroke-width="3.75" stroke-linecap="round" stroke-linejoin="round"/>
<defs><clipPath id="fins"><polygon points="793,547 805,531 826,524 838,530 838,645 826,642 791,622 787,596"/><polygon points="825,486 849,478 853,482 852,520 832,527 826,512"/></clipPath></defs>
<path d="M780,430 l90,36.0 M780,438.2 l90,36.0 M780,446.4 l90,36.0 M780,454.59999999999997 l90,36.0 M780,462.79999999999995 l90,36.0 M780,470.99999999999994 l90,36.0 M780,479.19999999999993 l90,36.0 M780,487.3999999999999 l90,36.0 M780,495.5999999999999 l90,36.0 M780,503.7999999999999 l90,36.0 M780,511.9999999999999 l90,36.0 M780,520.1999999999999 l90,36.0 M780,528.4 l90,36.0 M780,536.6 l90,36.0 M780,544.8000000000001 l90,36.0 M780,553.0000000000001 l90,36.0 M780,561.2000000000002 l90,36.0 M780,569.4000000000002 l90,36.0 M780,577.6000000000003 l90,36.0 M780,585.8000000000003 l90,36.0 M780,594.0000000000003 l90,36.0 M780,602.2000000000004 l90,36.0 M780,610.4000000000004 l90,36.0 M780,618.6000000000005 l90,36.0 M780,626.8000000000005 l90,36.0 M780,635.0000000000006 l90,36.0 M780,643.2000000000006 l90,36.0 M780,651.4000000000007 l90,36.0 M780,659.6000000000007 l90,36.0 M780,667.8000000000008 l90,36.0 M780,676.0000000000008 l90,36.0" stroke="#000" stroke-width="4.9" clip-path="url(#fins)"/>
<path d="M795,545 C788,565 786,590 788,620 L826,642" fill="none" stroke="#000" stroke-width="4.00" stroke-linecap="round" stroke-linejoin="round"/>
<path d="M826,487 L826,512" fill="none" stroke="#000" stroke-width="3.75" stroke-linecap="round" stroke-linejoin="round"/>
<path d="M852,479 L849,508 L841,537 L838,600 L839,655" fill="none" stroke="#000" stroke-width="4.50" stroke-linecap="round" stroke-linejoin="round"/>
<path d="M845,528 L836,560 L834,600 L835,640" fill="none" stroke="#000" stroke-width="3.00" stroke-linecap="round" stroke-linejoin="round"/>
<path d="M826,642 L822,650 L824,656 L838,658" fill="none" stroke="#000" stroke-width="3.75" stroke-linecap="round" stroke-linejoin="round"/>
<circle cx="836.5" cy="548" r="1.6" fill="#000"/>
<circle cx="836.1" cy="566" r="1.6" fill="#000"/>
<circle cx="835.8" cy="584" r="1.6" fill="#000"/>
<circle cx="835.4" cy="602" r="1.6" fill="#000"/>
<circle cx="835.1" cy="620" r="1.6" fill="#000"/>
<polyline points="771,531 798,544" fill="none" stroke="#000" stroke-width="3.50" stroke-linecap="round" stroke-linejoin="round"/>
<path d="M857,477 L866,470 L880,464 L893,462 L905,469 L904,478 M905,469 L923,470 L936,477 L941,483 C952,495 961,510 964,533 C965,550 963,572 956,590 C947,608 927,624 907,634 L851,656 L843,658 L839,655 L838,600 L841,537 L849,508 L852,479 Z" fill="none" stroke="#000" stroke-width="3.75" stroke-linecap="round" stroke-linejoin="round"/>
<ellipse cx="877" cy="483" rx="18" ry="12" transform="rotate(-8 877 483)" fill="none" stroke="#000" stroke-width="3.75"/>
<ellipse cx="878" cy="482.5" rx="12" ry="6.5" transform="rotate(-8 878 482.5)" fill="#000" stroke="#000" stroke-width="0.00"/>
<ellipse cx="934" cy="486" rx="3" ry="3.5" transform="rotate(0 934 486)" fill="none" stroke="#000" stroke-width="3.00"/>
<ellipse cx="845" cy="651.5" rx="3" ry="3.5" transform="rotate(0 845 651.5)" fill="none" stroke="#000" stroke-width="3.00"/>
<ellipse cx="900" cy="570" rx="49.5" ry="78" transform="rotate(33 900 570)" fill="none" stroke="#000" stroke-width="4.25"/>
<path d="M918,503 C943,516 946,552 936,573 L926,590" fill="none" stroke="#000" stroke-width="5.75" stroke-linecap="round" stroke-linejoin="round"/>
<path d="M929,502 C953,518 955,556 943,584 L936,596" fill="none" stroke="#000" stroke-width="3.75" stroke-linecap="round" stroke-linejoin="round"/>
<path d="M938,506 C961,525 963,560 954,585" fill="none" stroke="#000" stroke-width="3.00" stroke-linecap="round" stroke-linejoin="round"/>
<path d="M911,504 C922,525 918,552 902,574 L884,596" fill="none" stroke="#000" stroke-width="3.25" stroke-linecap="round" stroke-linejoin="round"/>
<path d="M872,562 L921,583" fill="none" stroke="#000" stroke-width="4.00" stroke-linecap="round" stroke-linejoin="round"/>
<path d="M880,598 L905,611 L902,618 L877,605 Z" fill="none" stroke="#000" stroke-width="3.50" stroke-linecap="round" stroke-linejoin="round"/>
<path d="M866,570 L878,576 L877,586 L867,582 M869,566 l-3,-6" fill="none" stroke="#000" stroke-width="3.50" stroke-linecap="round" stroke-linejoin="round"/>
<path d="M858,582 q-4,8 1,13 M852,600 l4,8 M858,620 l6,4" fill="none" stroke="#000" stroke-width="4.00" stroke-linecap="round" stroke-linejoin="round"/>
<path d="M862,540 l5,-3 l3,5 l-4,4 Z M855,560 l4,2 l-1,6 l-4,-2 Z M868,600 l6,2 l-2,5 l-5,-2 Z M873,612 l5,3 M866,628 l8,3 M880,626 l6,2" fill="#000" stroke="#000" stroke-width="3.25" stroke-linecap="round" stroke-linejoin="round"/>
<path d="M846,600 C845,615 850,630 862,636 L880,640" fill="none" stroke="#000" stroke-width="3.00" stroke-linecap="round" stroke-linejoin="round"/>
<path d="M845,565 L841,612 L842,648" fill="none" stroke="#000" stroke-width="5.62" stroke-linecap="round" stroke-linejoin="round"/>
<path d="M851,545 C846,560 843,585 845,615" fill="none" stroke="#000" stroke-width="3.75" stroke-linecap="round" stroke-linejoin="round"/>
<path d="M848,601 l6,-3 l4,6 l-3,5 l-6,-2 Z M862,595 l5,4 l-2,6 l-5,-3 Z M850,625 l7,2 l-2,5 Z" fill="#000" stroke="#000" stroke-width="3.00" stroke-linecap="round" stroke-linejoin="round"/>
<path d="M850,520 C856,515 868,508 875,507" fill="none" stroke="#000" stroke-width="3.25" stroke-linecap="round" stroke-linejoin="round"/>
<ellipse cx="862" cy="525" rx="3" ry="3" transform="rotate(0 862 525)" fill="none" stroke="#000" stroke-width="3.00"/>
<path d="M864,497 L878,503 L881,514" fill="none" stroke="#000" stroke-width="3.75" stroke-linecap="round" stroke-linejoin="round"/>
<polyline points="938.8,375.2 925.8,468.8" fill="none" stroke="#000" stroke-width="3.75" stroke-linecap="round" stroke-linejoin="round"/>
<polyline points="852.7,660 852.7,709" fill="none" stroke="#000" stroke-width="3.75" stroke-linecap="round" stroke-linejoin="round"/>
<polyline points="1006,416 956.5,630.6" fill="none" stroke="#000" stroke-width="3.75" stroke-linecap="round" stroke-linejoin="round"/>
<polyline points="1065.8,452.4 1035.9,583.8" fill="none" stroke="#000" stroke-width="3.75" stroke-linecap="round" stroke-linejoin="round"/>
<polyline points="1121.7,484.9 1081.4,563" fill="none" stroke="#000" stroke-width="3.75" stroke-linecap="round" stroke-linejoin="round"/>
<polyline points="1081.4,563 1080,590" fill="none" stroke="#000" stroke-width="3.25" stroke-linecap="round" stroke-linejoin="round"/>
<polyline points="1079.5,596 1078.5,630" fill="none" stroke="#000" stroke-width="3.25" stroke-linecap="round" stroke-linejoin="round"/>
<polyline points="1078.3,636 1077.5,664" fill="none" stroke="#000" stroke-width="3.25" stroke-linecap="round" stroke-linejoin="round"/>
<polyline points="1179,517.4 1085.3,668.4" fill="none" stroke="#000" stroke-width="3.75" stroke-linecap="round" stroke-linejoin="round"/>
<polyline points="1263.6,565.6 1211.5,654" fill="none" stroke="#000" stroke-width="3.75" stroke-linecap="round" stroke-linejoin="round"/>
<path d="M957,634 C962,636 962,645 958,647 C953,649 951,642 954,638" fill="none" stroke="#000" stroke-width="3.25" stroke-linecap="round" stroke-linejoin="round"/>
<polyline points="950,631 957,634" fill="none" stroke="#000" stroke-width="2.75" stroke-linecap="round" stroke-linejoin="round"/>
<g transform="rotate(28.5 1033 591.5)"><rect x="1003" y="586.5" width="60" height="10" rx="5" fill="none" stroke="#000" stroke-width="2.8"/></g>
<ellipse cx="1058.5" cy="602.7" rx="4" ry="4" transform="rotate(0 1058.5 602.7)" fill="#000" stroke="#000" stroke-width="0.00"/>
<polyline points="989,566.9 998,572" fill="none" stroke="#000" stroke-width="2.75" stroke-linecap="round" stroke-linejoin="round"/>
<polyline points="1064,608.5 1068,611" fill="none" stroke="#000" stroke-width="2.75" stroke-linecap="round" stroke-linejoin="round"/>
<g transform="rotate(29.5 1037 652)"><rect x="1011" y="645" width="46" height="14" rx="6" fill="none" stroke="#000" stroke-width="2.8"/></g>
<path d="M1050,655 q-3,7 1,12 M1056,658 q-3,7 1,12" fill="none" stroke="#000" stroke-width="3.25" stroke-linecap="round" stroke-linejoin="round"/>
<ellipse cx="1077.2" cy="666.3" rx="3" ry="3" transform="rotate(0 1077.2 666.3)" fill="#000" stroke="#000" stroke-width="0.00"/>
<path d="M1087,672 l5,3 M1090,683 q-4,4 -2,6 M1100,679 q8,-5 10,-8 q2,4 -4,6 q-4,8 -2,12 q6,-2 6,-8" fill="none" stroke="#000" stroke-width="3.25" stroke-linecap="round" stroke-linejoin="round"/>
<polyline points="1105.6,690.6 1126.4,701" fill="none" stroke="#000" stroke-width="3.25" stroke-linecap="round" stroke-linejoin="round"/>
<polyline points="1135.5,708.8 1201.8,746.5" fill="none" stroke="#000" stroke-width="3.25" stroke-linecap="round" stroke-linejoin="round"/>
<polyline points="1212,751.7 1222.7,757" fill="none" stroke="#000" stroke-width="3.25" stroke-linecap="round" stroke-linejoin="round"/>
<polyline points="1165.4,668.5 1207,691.9" fill="none" stroke="#000" stroke-width="3.25" stroke-linecap="round" stroke-linejoin="round"/>
<polyline points="1105.6,633.3 1144.6,655.5" fill="none" stroke="#000" stroke-width="3.25" stroke-linecap="round" stroke-linejoin="round"/>
<polyline points="953,612 1012,642" fill="none" stroke="#000" stroke-width="3.25" stroke-linecap="round" stroke-linejoin="round"/>
<polyline points="1060,667 1076,676" fill="none" stroke="#000" stroke-width="3.25" stroke-linecap="round" stroke-linejoin="round"/>
<ellipse cx="1167.6" cy="726.6" rx="49.5" ry="83.5" transform="rotate(31.35 1167.6 726.6)" fill="none" stroke="#000" stroke-width="6.75"/>
<g transform="rotate(31 1000 686.5)"><rect x="981" y="682" width="38" height="9" rx="4.5" fill="none" stroke="#000" stroke-width="2.6"/></g>
<ellipse cx="1016.5" cy="697" rx="3.5" ry="3.5" transform="rotate(0 1016.5 697)" fill="#000" stroke="#000" stroke-width="0.00"/>
<polyline points="1017,699 1026,704" fill="none" stroke="#000" stroke-width="2.50" stroke-linecap="round" stroke-linejoin="round"/>
<polyline points="946,658 956,663" fill="none" stroke="#000" stroke-width="3.00" stroke-linecap="round" stroke-linejoin="round"/>
<polyline points="962,666 980,676" fill="none" stroke="#000" stroke-width="3.00" stroke-linecap="round" stroke-linejoin="round"/>
<ellipse cx="978.2" cy="733.5" rx="13.5" ry="7.5" transform="rotate(-10 978.2 733.5)" fill="none" stroke="#000" stroke-width="3.50"/>
<ellipse cx="976.5" cy="734" rx="6" ry="4" transform="rotate(-10 976.5 734)" fill="none" stroke="#000" stroke-width="2.50"/>
<polyline points="921,643 921.5,806" fill="none" stroke="#000" stroke-width="3.75" stroke-linecap="round" stroke-linejoin="round"/>
<polyline points="943,658 943.5,690" fill="none" stroke="#000" stroke-width="3.50" stroke-linecap="round" stroke-linejoin="round"/>
<polyline points="944,697 945,712.7 970.3,728.3" fill="none" stroke="#000" stroke-width="3.50" stroke-linecap="round" stroke-linejoin="round"/>
<polyline points="966,660 966,663" fill="none" stroke="#000" stroke-width="2.50" stroke-linecap="round" stroke-linejoin="round"/>
<polyline points="929,830 943,829 973.2,741" fill="none" stroke="#000" stroke-width="3.25" stroke-linecap="round" stroke-linejoin="round"/>
<polyline points="999.5,835 1012.2,703" fill="none" stroke="#000" stroke-width="3.25" stroke-linecap="round" stroke-linejoin="round"/>
<polyline points="779.1,675.8 840.4,709.2" fill="none" stroke="#000" stroke-width="3.75" stroke-linecap="round" stroke-linejoin="round"/>
<polyline points="778,744.9 840.4,776.1" fill="none" stroke="#000" stroke-width="3.75" stroke-linecap="round" stroke-linejoin="round"/>
<ellipse cx="851.3" cy="719.5" rx="16.5" ry="12" transform="rotate(0 851.3 719.5)" fill="#000" stroke="#000" stroke-width="0.00"/>
<path d="M840,722 Q851,730 863,722" fill="#fbfefa" stroke="#000" stroke-width="3.20" stroke-linecap="round" stroke-linejoin="round"/>
<path d="M842,716 q1,-4 3,-5 M860,716 q-1,-4 -3,-5 M849,718 l5,0" fill="none" stroke="#000" stroke-width="2.50" stroke-linecap="round" stroke-linejoin="round"/>
<polyline points="851.5,731 851.5,747" fill="none" stroke="#000" stroke-width="5.00" stroke-linecap="round" stroke-linejoin="round"/>
<path d="M841,748 C841,745 861,745 861,748 L857,818 L844,818 Z" fill="none" stroke="#000" stroke-width="3.75" stroke-linecap="round" stroke-linejoin="round"/>
<path d="M843.5,815 L857.5,815 L856.5,827 L844.5,827 Z" fill="#000" stroke="#000" stroke-width="2.50" stroke-linecap="round" stroke-linejoin="round"/>
<path d="M858,764 q-5,4 -3,9 l3,1" fill="#000" stroke="#000" stroke-width="3.75" stroke-linecap="round" stroke-linejoin="round"/>
<path d="M858,800 q-4,0 -5,4" fill="none" stroke="#000" stroke-width="3.00" stroke-linecap="round" stroke-linejoin="round"/>
<polyline points="826,751 840,759" fill="none" stroke="#000" stroke-width="3.00" stroke-linecap="round" stroke-linejoin="round"/>
<polyline points="921.5,806 860.5,773.9" fill="none" stroke="#000" stroke-width="3.2" stroke-dasharray="24 7 4 7" stroke-dashoffset="0"/>
<polyline points="229.5,466.5 229.5,769.4" fill="none" stroke="#000" stroke-width="2.9" stroke-dasharray="83 8 10 8" stroke-dashoffset="0"/>
<polyline points="520.4,630.5 234.6,466.5" fill="none" stroke="#000" stroke-width="2.9" stroke-dasharray="90 9 11 9" stroke-dashoffset="0"/>
<polyline points="578,668 1222.5,1032" fill="none" stroke="#000" stroke-width="2.9" stroke-dasharray="98 8 12 9" stroke-dashoffset="0"/>
<polyline points="1222.7,757 1222.7,1032" fill="none" stroke="#000" stroke-width="2.9" stroke-dasharray="119 13 12 13" stroke-dashoffset="0"/>
<polyline points="226.8,775.7 245.6,786.6" fill="none" stroke="#000" stroke-width="3.25" stroke-linecap="round" stroke-linejoin="round"/>
<polyline points="231.8,1080.3 231.8,1297.3" fill="none" stroke="#000" stroke-width="2.9" stroke-dasharray="92 9 11 11" stroke-dashoffset="0"/>
<polyline points="235,1080.3 473.8,1217.7" fill="none" stroke="#000" stroke-width="2.9" stroke-dasharray="119 10 14 12" stroke-dashoffset="0"/>
<polyline points="250.6,1308.2 274,1322.3" fill="none" stroke="#000" stroke-width="3.25" stroke-linecap="round" stroke-linejoin="round"/>
<polyline points="1011,1220 1015,1520" fill="none" stroke="#000" stroke-width="2.9" stroke-dasharray="80 11 14 11" stroke-dashoffset="0"/>
<polyline points="1015,1520 762,1381" fill="none" stroke="#000" stroke-width="2.9" stroke-dasharray="79 7 11 7" stroke-dashoffset="0"/>
<polyline points="373.6,643 300.2,761.6" fill="none" stroke="#000" stroke-width="3.75" stroke-linecap="round" stroke-linejoin="round"/>
<polyline points="467.3,697.6 398.6,811.6" fill="none" stroke="#000" stroke-width="3.75" stroke-linecap="round" stroke-linejoin="round"/>
<polyline points="565.6,755.4 504.8,858.4" fill="none" stroke="#000" stroke-width="3.75" stroke-linecap="round" stroke-linejoin="round"/>
<line x1="536" y1="669.5" x2="436.4" y2="778.9" stroke="#000" stroke-width="4.6" stroke-linecap="round"/>
<polygon points="423.6,792.9 432.1,770.9 444.7,782.4" fill="#000" stroke="#000" stroke-width="1.5" stroke-linejoin="round"/>
<line x1="545.3" y1="661.7" x2="503.0" y2="804.0" stroke="#000" stroke-width="4.6" stroke-linecap="round"/>
<polygon points="497,824.1 495.7,798.7 512.0,803.5" fill="#000" stroke="#000" stroke-width="1.5" stroke-linejoin="round"/>
<ellipse cx="274.8" cy="796.5" rx="25.5" ry="41" transform="rotate(27 274.8 796.5)" fill="#fbfefa" stroke="#000" stroke-width="4.0"/>
<polygon points="320.1,774.7 281.9,847.3 255.7,832.7 293.9,760.2" fill="#fbfefa" stroke="none"/>
<path d="M320.1,774.7 L293.9,760.2 M281.9,847.3 L255.7,832.7" stroke="#000" stroke-width="4.0" stroke-linecap="round"/>
<ellipse cx="301" cy="811" rx="25.5" ry="41" transform="rotate(27 301 811)" fill="#fbfefa" stroke="#000" stroke-width="4.0"/>
<ellipse cx="300" cy="818" rx="11" ry="16" transform="rotate(25 300 818)" fill="none" stroke="#000" stroke-width="4.00"/>
<path d="M292,818 q8,-10 16,-2" fill="none" stroke="#000" stroke-width="3.25" stroke-linecap="round" stroke-linejoin="round"/>
<ellipse cx="279.5" cy="782" rx="6.5" ry="5.5" transform="rotate(60 279.5 782)" fill="none" stroke="#000" stroke-width="3.75"/>
<path d="M255,826 q7,2 6,10" fill="none" stroke="#000" stroke-width="3.25" stroke-linecap="round" stroke-linejoin="round"/>
<path d="M246,800 C243,810 243,822 246,832" fill="none" stroke="#000" stroke-width="4.25" stroke-linecap="round" stroke-linejoin="round"/>
<path d="M197,849 C212,845 218,868 199,871 Z" fill="none" stroke="#000" stroke-width="4.25" stroke-linecap="round" stroke-linejoin="round"/>
<polyline points="216,857 245,841" fill="none" stroke="#000" stroke-width="3.25" stroke-linecap="round" stroke-linejoin="round" stroke-dasharray="5 3 2 3"/>
<polyline points="319.3,829 334.8,838.7" fill="none" stroke="#000" stroke-width="3.50" stroke-linecap="round" stroke-linejoin="round"/>
<polyline points="360,853.2 394.7,869.6" fill="none" stroke="#000" stroke-width="3.50" stroke-linecap="round" stroke-linejoin="round"/>
<polyline points="406.3,879.3 431.4,890.9" fill="none" stroke="#000" stroke-width="3.50" stroke-linecap="round" stroke-linejoin="round"/>
<polyline points="400.5,813.5 460.4,850.3" fill="none" stroke="#000" stroke-width="3.50" stroke-linecap="round" stroke-linejoin="round"/>
<polyline points="485.6,923.7 499.1,931.5" fill="none" stroke="#000" stroke-width="3.50" stroke-linecap="round" stroke-linejoin="round"/>
<ellipse cx="364.0" cy="854.2" rx="32" ry="50" transform="rotate(26.6 364.0 854.2)" fill="#fbfefa" stroke="#000" stroke-width="3.75"/>
<polygon points="401.1,817.7 354.9,906.3 340.9,898.6 387.2,809.9" fill="#fbfefa" stroke="none"/>
<path d="M401.1,817.7 L387.2,809.9 M354.9,906.3 L340.9,898.6" stroke="#000" stroke-width="3.75" stroke-linecap="round"/>
<ellipse cx="378" cy="862" rx="32" ry="50" transform="rotate(26.6 378 862)" fill="#fbfefa" stroke="#000" stroke-width="3.75"/>
<ellipse cx="380.5" cy="861" rx="26.5" ry="45" transform="rotate(26.6 380.5 861)" fill="none" stroke="#000" stroke-width="4.00"/>
<ellipse cx="382" cy="860.5" rx="24" ry="42" transform="rotate(26.6 382 860.5)" fill="none" stroke="#000" stroke-width="2.00"/>
<ellipse cx="466.8" cy="904.3" rx="38.5" ry="62" transform="rotate(29.5 466.8 904.3)" fill="#fbfefa" stroke="#000" stroke-width="3.75"/>
<polygon points="516.3,860.9 455.7,969.1 436.4,958.4 497.1,850.3" fill="#fbfefa" stroke="none"/>
<path d="M516.3,860.9 L497.1,850.3 M455.7,969.1 L436.4,958.4" stroke="#000" stroke-width="3.75" stroke-linecap="round"/>
<ellipse cx="486" cy="915" rx="38.5" ry="62" transform="rotate(29.5 486 915)" fill="#fbfefa" stroke="#000" stroke-width="3.75"/>
<ellipse cx="489" cy="913" rx="33.5" ry="57" transform="rotate(29.5 489 913)" fill="none" stroke="#000" stroke-width="4.50"/>
<ellipse cx="490.5" cy="912" rx="31" ry="54" transform="rotate(29.5 490.5 912)" fill="none" stroke="#000" stroke-width="2.00"/>
<path d="M454,857 L465,849 L481,854 L477,870 L469,877 L452,868 Z" fill="#fbfefa" stroke="#000" stroke-width="3.50" stroke-linecap="round" stroke-linejoin="round"/>
<path d="M457,861 l15,5 M455,867 l13,5" fill="none" stroke="#000" stroke-width="2.75" stroke-linecap="round" stroke-linejoin="round"/>
<path d="M481,854 L492,853 L506,858 L512,866" fill="none" stroke="#000" stroke-width="3.50" stroke-linecap="round" stroke-linejoin="round"/>
<polyline points="360.5,853 395,870" fill="none" stroke="#000" stroke-width="3.50" stroke-linecap="round" stroke-linejoin="round"/>
<polyline points="487,924 500,931.5" fill="none" stroke="#000" stroke-width="3.25" stroke-linecap="round" stroke-linejoin="round"/>
<polyline points="486,919 484,928" fill="none" stroke="#000" stroke-width="2.75" stroke-linecap="round" stroke-linejoin="round"/>
<polyline points="472,985 472,1036" fill="none" stroke="#000" stroke-width="3.25" stroke-linecap="round" stroke-linejoin="round"/>
<path d="M466,1036 L477,1036 L477,1052 L467,1052 Z" fill="none" stroke="#000" stroke-width="3.50" stroke-linecap="round" stroke-linejoin="round"/>
<path d="M466,1040 l11,0" fill="none" stroke="#000" stroke-width="2.50" stroke-linecap="round" stroke-linejoin="round"/>
<polyline points="465.7,1055 440.7,1092.6" fill="none" stroke="#000" stroke-width="3.75" stroke-linecap="round" stroke-linejoin="round"/>
<polyline points="536.7,896.7 550,903.3" fill="none" stroke="#000" stroke-width="3.50" stroke-linecap="round" stroke-linejoin="round"/>
<polyline points="561.7,910 613.3,936.7" fill="none" stroke="#000" stroke-width="3.50" stroke-linecap="round" stroke-linejoin="round"/>
<polyline points="533.3,951.7 566.7,970" fill="none" stroke="#000" stroke-width="3.50" stroke-linecap="round" stroke-linejoin="round"/>
<polyline points="576.7,976.7 621.7,1001.7" fill="none" stroke="#000" stroke-width="3.50" stroke-linecap="round" stroke-linejoin="round"/>
<polyline points="631.7,950 673.3,975" fill="none" stroke="#000" stroke-width="3.50" stroke-linecap="round" stroke-linejoin="round"/>
<polyline points="633.3,1006.7 658.3,1021.7" fill="none" stroke="#000" stroke-width="3.50" stroke-linecap="round" stroke-linejoin="round"/>
<polyline points="537.8,896.7 551.3,904.4" fill="none" stroke="#000" stroke-width="3.25" stroke-linecap="round" stroke-linejoin="round"/>
<polyline points="545,1020 550,1023" fill="none" stroke="#000" stroke-width="3.25" stroke-linecap="round" stroke-linejoin="round"/>
<polyline points="580,1038 584,1041" fill="none" stroke="#000" stroke-width="3.00" stroke-linecap="round" stroke-linejoin="round"/>
<polyline points="613,1037 620,1040" fill="none" stroke="#000" stroke-width="3.00" stroke-linecap="round" stroke-linejoin="round"/>
<polyline points="645,1045 652,1048" fill="none" stroke="#000" stroke-width="3.00" stroke-linecap="round" stroke-linejoin="round"/>
<polyline points="524,942 526,943" fill="none" stroke="#000" stroke-width="3.00" stroke-linecap="round" stroke-linejoin="round"/>
<polyline points="633,964 635,965" fill="none" stroke="#000" stroke-width="3.00" stroke-linecap="round" stroke-linejoin="round"/>
<polyline points="610,778 520,991.7" fill="none" stroke="#000" stroke-width="3.50" stroke-linecap="round" stroke-linejoin="round"/>
<polyline points="611,778 566.7,993.3" fill="none" stroke="#000" stroke-width="3.50" stroke-linecap="round" stroke-linejoin="round"/>
<polyline points="646.7,800 570,997" fill="none" stroke="#000" stroke-width="3.50" stroke-linecap="round" stroke-linejoin="round"/>
<polyline points="647.5,800 600,1014" fill="none" stroke="#000" stroke-width="3.50" stroke-linecap="round" stroke-linejoin="round"/>
<polyline points="681.7,823.3 628,1030" fill="none" stroke="#000" stroke-width="3.50" stroke-linecap="round" stroke-linejoin="round"/>
<polyline points="681,823.3 612,1012" fill="none" stroke="#000" stroke-width="3.50" stroke-linecap="round" stroke-linejoin="round"/>
<polyline points="735,850 653.6,993.8" fill="none" stroke="#000" stroke-width="3.50" stroke-linecap="round" stroke-linejoin="round"/>
<ellipse cx="516" cy="1003.5" rx="12" ry="10" transform="rotate(30 516 1003.5)" fill="#000" stroke="#000" stroke-width="0.00"/>
<ellipse cx="521" cy="1006.5" rx="4.5" ry="5.5" transform="rotate(20 521 1006.5)" fill="#fbfefa" stroke="#000" stroke-width="0.00"/>
<polyline points="527,1010 534,1013" fill="none" stroke="#000" stroke-width="3.00" stroke-linecap="round" stroke-linejoin="round"/>
<path d="M546,990 C541,994 541,1003 547,1007 M551,992 C546,996 547,1004 552,1006 M556,993 C562,990 568,996 563,1003 C560,1008 553,1008 552,1003" fill="none" stroke="#000" stroke-width="4.00" stroke-linecap="round" stroke-linejoin="round"/>
<path d="M563,1003 l2,6" fill="none" stroke="#000" stroke-width="3.75" stroke-linecap="round" stroke-linejoin="round"/>
<path d="M556,1018 C551,1022 550,1030 555,1031 C560,1030 561,1022 558,1016 L559,1011" fill="none" stroke="#000" stroke-width="4.00" stroke-linecap="round" stroke-linejoin="round"/>
<path d="M599,1017 C593,1015 589,1021 592,1026 C596,1029 601,1025 600,1019 L599,1030 C598,1035 594,1036 591,1033" fill="none" stroke="#000" stroke-width="4.00" stroke-linecap="round" stroke-linejoin="round"/>
<path d="M597,1041 C591,1044 590,1051 594,1053 C599,1053 600,1046 598,1040 L599,1034" fill="none" stroke="#000" stroke-width="4.00" stroke-linecap="round" stroke-linejoin="round"/>
<path d="M625,1033 L623,1047 C626,1050 631,1048 631,1043 C631,1038 627,1037 624,1040" fill="none" stroke="#000" stroke-width="4.00" stroke-linecap="round" stroke-linejoin="round"/>
<path d="M643,991 L651,987 L660,993 L656,998 L648,996 Z" fill="none" stroke="#000" stroke-width="3.50" stroke-linecap="round" stroke-linejoin="round"/>
<polyline points="651,998 657,1001" fill="none" stroke="#000" stroke-width="3.00" stroke-linecap="round" stroke-linejoin="round"/>
<ellipse cx="694.2" cy="1049.2" rx="47.5" ry="79.5" transform="rotate(30.5 694.2 1049.2)" fill="#fbfefa" stroke="#000" stroke-width="4.0"/>
<polygon points="743.3,979.7 684.7,1124.3 664.9,1121.5 723.5,976.9" fill="#fbfefa" stroke="none"/>
<path d="M743.3,979.7 L723.5,976.9 M684.7,1124.3 L664.9,1121.5" stroke="#000" stroke-width="4.0" stroke-linecap="round"/>
<ellipse cx="714" cy="1052" rx="47.5" ry="79.5" transform="rotate(30.5 714 1052)" fill="#fbfefa" stroke="#000" stroke-width="4.0"/>
<path d="M672,1000 C660,1022 655,1060 660,1092 C663,1108 670,1118 680,1124" fill="none" stroke="#000" stroke-width="5.50" stroke-linecap="round" stroke-linejoin="round"/>
<path d="M645,1085 l8,-6 M648,1098 l9,-5 M655,1110 l9,-4 M664,1120 l7,-3" fill="none" stroke="#000" stroke-width="2.75" stroke-linecap="round" stroke-linejoin="round"/>
<path d="M663,1061 L700,1041 L714,1026 L731,1026 L763,1008" fill="none" stroke="#000" stroke-width="3.75" stroke-linecap="round" stroke-linejoin="round"/>
<path d="M665,1064 L702,1044 L716,1029 L733,1029 L765,1011" fill="none" stroke="#000" stroke-width="2.25" stroke-linecap="round" stroke-linejoin="round"/>
<path d="M700,1050 C698,1040 705,1035 715,1038 L752,1055 C758,1065 755,1080 745,1085 L706,1068 C700,1064 700,1058 700,1050 Z" fill="none" stroke="#000" stroke-width="3.50" stroke-linecap="round" stroke-linejoin="round"/>
<ellipse cx="745" cy="1072" rx="9" ry="10" transform="rotate(30 745 1072)" fill="none" stroke="#000" stroke-width="3.25"/>
<ellipse cx="746" cy="1072" rx="6" ry="7" transform="rotate(30 746 1072)" fill="#000" stroke="#000" stroke-width="0.00"/>
<ellipse cx="719" cy="1055" rx="3" ry="5" transform="rotate(30 719 1055)" fill="none" stroke="#000" stroke-width="3.00"/>
<ellipse cx="761" cy="1026.5" rx="2.5" ry="3.5" transform="rotate(30 761 1026.5)" fill="none" stroke="#000" stroke-width="2.75"/>
<circle cx="676.2" cy="1073.8" r="2" fill="#000"/>
<path d="M687,1007 q-8,6 -3,12 q8,-4 6,-12 M703,996 q8,-3 8,4 q-7,3 -3,10 q6,0 10,-5" fill="none" stroke="#000" stroke-width="3.50" stroke-linecap="round" stroke-linejoin="round"/>
<path d="M673,1099 q-8,6 -3,12 q8,-4 6,-12 M686,1088 L697,1086 L690,1110 L684,1120" fill="none" stroke="#000" stroke-width="3.25" stroke-linecap="round" stroke-linejoin="round"/>
<polyline points="753.8,1077.8 766,1084" fill="none" stroke="#000" stroke-width="3.50" stroke-linecap="round" stroke-linejoin="round"/>
<polyline points="1011,1220 767,1084" fill="none" stroke="#000" stroke-width="3.0" stroke-dasharray="121 11 13 11" stroke-dashoffset="0"/>
<polyline points="787.3,886.8 738,976" fill="none" stroke="#000" stroke-width="3.75" stroke-linecap="round" stroke-linejoin="round"/>
<polyline points="796,947.7 796,994.5" fill="none" stroke="#000" stroke-width="3.75" stroke-linecap="round" stroke-linejoin="round"/>
<polyline points="834.1,921.1 821.6,977.3" fill="none" stroke="#000" stroke-width="3.75" stroke-linecap="round" stroke-linejoin="round"/>
<polyline points="877.8,908.6 846.6,961.7" fill="none" stroke="#000" stroke-width="3.75" stroke-linecap="round" stroke-linejoin="round"/>
<polyline points="865.3,1005.4 801.3,1047.6" fill="none" stroke="#000" stroke-width="3.75" stroke-linecap="round" stroke-linejoin="round"/>
<polyline points="834.1,1064.8 843.5,1044.5" fill="none" stroke="#000" stroke-width="3.75" stroke-linecap="round" stroke-linejoin="round"/>
<polyline points="881,1083.5 893.5,1041.3" fill="none" stroke="#000" stroke-width="3.75" stroke-linecap="round" stroke-linejoin="round"/>
<polyline points="719.9,1160.7 734.4,1130.6" fill="none" stroke="#000" stroke-width="3.75" stroke-linecap="round" stroke-linejoin="round"/>
<circle cx="796.5" cy="996" r="3" fill="#000"/>
<circle cx="821" cy="978.5" r="2.6" fill="#000"/>
<ellipse cx="846.2" cy="961.5" rx="5" ry="4.5" transform="rotate(0 846.2 961.5)" fill="none" stroke="#000" stroke-width="3.75"/>
<path d="M845,958 l-3,7" fill="none" stroke="#000" stroke-width="3.00" stroke-linecap="round" stroke-linejoin="round"/>
<polyline points="771,1018 783,1011" fill="none" stroke="#000" stroke-width="3.25" stroke-linecap="round" stroke-linejoin="round"/>
<polyline points="789,1008 806,999" fill="none" stroke="#000" stroke-width="3.25" stroke-linecap="round" stroke-linejoin="round"/>
<polyline points="814,995 839,982" fill="none" stroke="#000" stroke-width="3.25" stroke-linecap="round" stroke-linejoin="round"/>
<polyline points="845,979 866,967" fill="none" stroke="#000" stroke-width="3.25" stroke-linecap="round" stroke-linejoin="round"/>
<ellipse cx="800.5" cy="1048" rx="4" ry="3.5" transform="rotate(0 800.5 1048)" fill="none" stroke="#000" stroke-width="3.25"/>
<polyline points="790,1050 796,1048" fill="none" stroke="#000" stroke-width="2.75" stroke-linecap="round" stroke-linejoin="round"/>
<polyline points="806,1047 818,1045" fill="none" stroke="#000" stroke-width="2.75" stroke-linecap="round" stroke-linejoin="round"/>
<polyline points="835,1045 852,1044" fill="none" stroke="#000" stroke-width="5.25" stroke-linecap="round" stroke-linejoin="round"/>
<polyline points="862,1044 890,1042" fill="none" stroke="#000" stroke-width="3.00" stroke-linecap="round" stroke-linejoin="round"/>
<circle cx="893.5" cy="1041" r="3.2" fill="#000"/>
<ellipse cx="734" cy="1131" rx="6" ry="2.5" transform="rotate(20 734 1131)" fill="none" stroke="#000" stroke-width="3.00"/>
<polyline points="571.8,1074.1 600,1090" fill="none" stroke="#000" stroke-width="3.75" stroke-linecap="round" stroke-linejoin="round"/>
<polyline points="590,1104 621,1088" fill="none" stroke="#000" stroke-width="6.25" stroke-linecap="round" stroke-linejoin="round"/>
<polyline points="607,1098 623,1090" fill="none" stroke="#000" stroke-width="2.50" stroke-linecap="round" stroke-linejoin="round"/>
<polyline points="584.9,1157.4 611.7,1114.9" fill="none" stroke="#000" stroke-width="3.75" stroke-linecap="round" stroke-linejoin="round"/>
<polyline points="578,1128 609,1112" fill="none" stroke="#000" stroke-width="6.25" stroke-linecap="round" stroke-linejoin="round"/>
<polyline points="607,1113 613,1110" fill="none" stroke="#000" stroke-width="2.50" stroke-linecap="round" stroke-linejoin="round"/>
<polyline points="538.1,1171.9 560.4,1134" fill="none" stroke="#000" stroke-width="3.75" stroke-linecap="round" stroke-linejoin="round"/>
<path d="M540,1134 L548,1124 L558,1120 L562,1128 L555,1137 L545,1138 Z" fill="#000" stroke="#000" stroke-width="2.50" stroke-linecap="round" stroke-linejoin="round"/>
<path d="M559,1121 C561,1115 570,1115 570,1121 C570,1127 563,1130 560,1128" fill="none" stroke="#000" stroke-width="3.50" stroke-linecap="round" stroke-linejoin="round"/>
<polyline points="570,1117 575,1114" fill="none" stroke="#000" stroke-width="2.75" stroke-linecap="round" stroke-linejoin="round"/>
<polyline points="493.5,1175.2 511.3,1151.8" fill="none" stroke="#000" stroke-width="3.75" stroke-linecap="round" stroke-linejoin="round"/>
<path d="M516,1152 C511,1150 511,1143 516,1141 C521,1140 523,1146 520,1151 L528,1143" fill="none" stroke="#000" stroke-width="3.50" stroke-linecap="round" stroke-linejoin="round"/>
<polyline points="517,1164 531,1157" fill="none" stroke="#000" stroke-width="3.25" stroke-linecap="round" stroke-linejoin="round"/>
<polyline points="537,1143 545,1139" fill="none" stroke="#000" stroke-width="3.25" stroke-linecap="round" stroke-linejoin="round"/>
<polyline points="567,1138 575,1134" fill="none" stroke="#000" stroke-width="3.00" stroke-linecap="round" stroke-linejoin="round"/>
<polyline points="612,1112 638,1097" fill="none" stroke="#000" stroke-width="3.00" stroke-linecap="round" stroke-linejoin="round"/>
<polyline points="644,1093 655,1087" fill="none" stroke="#000" stroke-width="3.00" stroke-linecap="round" stroke-linejoin="round"/>
<polyline points="420.7,1245.8 367.7,1331.7" fill="none" stroke="#000" stroke-width="3.75" stroke-linecap="round" stroke-linejoin="round"/>
<polyline points="508.2,1295.8 442.6,1402 446,1410" fill="none" stroke="#000" stroke-width="3.75" stroke-linecap="round" stroke-linejoin="round"/>
<polyline points="591.7,1343.7 551.2,1409.3" fill="none" stroke="#000" stroke-width="3.75" stroke-linecap="round" stroke-linejoin="round"/>
<polyline points="660.4,1367.1 669.8,1390.6" fill="none" stroke="#000" stroke-width="3.75" stroke-linecap="round" stroke-linejoin="round"/>
<polyline points="721.3,1410.9 688.5,1423.3" fill="none" stroke="#000" stroke-width="3.75" stroke-linecap="round" stroke-linejoin="round"/>
<polyline points="823.3,1474.4 784.2,1553.8" fill="none" stroke="#000" stroke-width="3.75" stroke-linecap="round" stroke-linejoin="round"/>
<polyline points="871.4,1503 805,1611" fill="none" stroke="#000" stroke-width="3.75" stroke-linecap="round" stroke-linejoin="round"/>
<polyline points="923.5,1533 859.7,1642.3" fill="none" stroke="#000" stroke-width="3.75" stroke-linecap="round" stroke-linejoin="round"/>
<polyline points="978.1,1564.2 917,1668.3" fill="none" stroke="#000" stroke-width="3.75" stroke-linecap="round" stroke-linejoin="round"/>
<polyline points="188.1,1419 200.6,1412.9" fill="none" stroke="#000" stroke-width="4.25" stroke-linecap="round" stroke-linejoin="round"/>
<ellipse cx="226" cy="1400.5" rx="11" ry="14.5" transform="rotate(20 226 1400.5)" fill="none" stroke="#000" stroke-width="6.50"/>
<polyline points="249,1391 262,1384" fill="none" stroke="#000" stroke-width="3.25" stroke-linecap="round" stroke-linejoin="round" stroke-dasharray="6 4 2 4"/>
<ellipse cx="302.6" cy="1337.1" rx="27.5" ry="46" transform="rotate(26.2 302.6 1337.1)" fill="#fbfefa" stroke="#000" stroke-width="4.0"/>
<polygon points="356.0,1314.1 314.0,1395.9 281.6,1378.0 323.7,1296.2" fill="#fbfefa" stroke="none"/>
<path d="M356.0,1314.1 L323.7,1296.2 M314.0,1395.9 L281.6,1378.0" stroke="#000" stroke-width="4.0" stroke-linecap="round"/>
<ellipse cx="335" cy="1355" rx="27.5" ry="46" transform="rotate(26.2 335 1355)" fill="#fbfefa" stroke="#000" stroke-width="4.0"/>
<ellipse cx="338" cy="1355" rx="18" ry="28" transform="rotate(26.2 338 1355)" fill="none" stroke="#000" stroke-width="3.75"/>
<ellipse cx="339.5" cy="1354" rx="13" ry="21" transform="rotate(26.2 339.5 1354)" fill="none" stroke="#000" stroke-width="4.25"/>
<path d="M336,1345 l8,4 M334,1360 l10,-14 M341,1362 l3,-10" fill="none" stroke="#000" stroke-width="2.75" stroke-linecap="round" stroke-linejoin="round"/>
<path d="M313,1323 C305,1326 294,1324 294,1317 C294,1309 304,1305 312,1307 C318,1309 320,1314 319,1320" fill="none" stroke="#000" stroke-width="4.00" stroke-linecap="round" stroke-linejoin="round"/>
<path d="M306,1312 l-2,4" fill="none" stroke="#000" stroke-width="3.00" stroke-linecap="round" stroke-linejoin="round"/>
<path d="M277,1377 C276,1368 279,1358 287,1356 C296,1355 298,1368 295,1378" fill="none" stroke="#000" stroke-width="4.00" stroke-linecap="round" stroke-linejoin="round"/>
<polyline points="360,1372 400,1395" fill="none" stroke="#000" stroke-width="3.50" stroke-linecap="round" stroke-linejoin="round"/>
<path d="M397,1392 L404,1395 L411,1391 L417,1396 L425,1391 L429,1395 L423,1401 L441,1411 L446,1419 L440,1424 L420,1413 L414,1410 L410,1416 L403,1417 L399,1410 L395,1403 Z" fill="none" stroke="#000" stroke-width="3.50" stroke-linecap="round" stroke-linejoin="round"/>
<path d="M405,1400 l6,3" fill="none" stroke="#000" stroke-width="3.00" stroke-linecap="round" stroke-linejoin="round"/>
<ellipse cx="454" cy="1422.5" rx="5" ry="5.5" transform="rotate(0 454 1422.5)" fill="#000" stroke="#000" stroke-width="0.00"/>
<polyline points="443,1417 452,1421" fill="none" stroke="#000" stroke-width="5.00" stroke-linecap="round" stroke-linejoin="round"/>
<polyline points="458,1425 482,1438" fill="none" stroke="#000" stroke-width="3.50" stroke-linecap="round" stroke-linejoin="round"/>
<ellipse cx="520.8" cy="1459.2" rx="33" ry="58" transform="rotate(31 520.8 1459.2)" fill="#fbfefa" stroke="#000" stroke-width="2.75"/>
<polygon points="562.3,1416.0 503.7,1516.0 491.5,1509.3 550.1,1409.2" fill="#fbfefa" stroke="none"/>
<path d="M562.3,1416.0 L550.1,1409.2 M503.7,1516.0 L491.5,1509.3" stroke="#000" stroke-width="2.75" stroke-linecap="round"/>
<ellipse cx="533" cy="1466" rx="33" ry="58" transform="rotate(31 533 1466)" fill="#fbfefa" stroke="#000" stroke-width="2.75"/>
<ellipse cx="531.5" cy="1468" rx="28" ry="53" transform="rotate(31 531.5 1468)" fill="none" stroke="#000" stroke-width="5.00"/>
<path d="M550,1498 l3,-3 M546,1504 l3,-3 M554,1491 l3,-3" fill="none" stroke="#000" stroke-width="2.75" stroke-linecap="round" stroke-linejoin="round"/>
<polyline points="508.8,1456.5 560,1484" fill="none" stroke="#000" stroke-width="3.50" stroke-linecap="round" stroke-linejoin="round"/>
<polyline points="562,1485 592,1502" fill="none" stroke="#000" stroke-width="3.50" stroke-linecap="round" stroke-linejoin="round"/>
<line x1="478.7" y1="1646.6" x2="489.2" y2="1546.1" stroke="#000" stroke-width="5.2" stroke-linecap="round"/>
<polygon points="491.9,1520.2 498.8,1550.1 478.9,1548.0" fill="#000" stroke="#000" stroke-width="1.5" stroke-linejoin="round"/>
<line x1="476.8" y1="1658" x2="561.9" y2="1601.6" stroke="#000" stroke-width="5.2" stroke-linecap="round"/>
<polygon points="583.6,1587.2 565.0,1611.6 553.9,1594.9" fill="#000" stroke="#000" stroke-width="1.5" stroke-linejoin="round"/>
<path d="M664,1389 C664,1385 676,1385 676,1389 L671,1397 L669,1397 Z" fill="#000" stroke="#000" stroke-width="3.25" stroke-linecap="round" stroke-linejoin="round"/>
<ellipse cx="670" cy="1389.5" rx="3" ry="1.8" transform="rotate(0 670 1389.5)" fill="#fbfefa" stroke="#000" stroke-width="0.00"/>
<polyline points="670,1397 670,1421" fill="none" stroke="#000" stroke-width="3.25" stroke-linecap="round" stroke-linejoin="round"/>
<ellipse cx="670.5" cy="1426" rx="8.5" ry="4.5" transform="rotate(-5 670.5 1426)" fill="none" stroke="#000" stroke-width="3.75"/>
<polyline points="671,1431 673,1472" fill="none" stroke="#000" stroke-width="3.25" stroke-linecap="round" stroke-linejoin="round" stroke-dasharray="8 4"/>
<path d="M619.7,1521 C608,1545 600,1575 599,1628 L602,1631 L624,1643 L697,1612 L743,1546 C745,1530 742,1505 739,1488 L724,1465 L718,1457 L700,1449 L680,1460" fill="#fbfefa" stroke="#000" stroke-width="4.00" stroke-linecap="round" stroke-linejoin="round"/>
<path d="M619.7,1521 L622.7,1493 C625,1486 632,1482 641,1481 L679,1460" fill="none" stroke="#000" stroke-width="4.00" stroke-linecap="round" stroke-linejoin="round"/>
<path d="M641,1481 L647,1489 L662,1486 L674,1479 L720,1462" fill="none" stroke="#000" stroke-width="3.50" stroke-linecap="round" stroke-linejoin="round"/>
<path d="M623,1494 L624,1642" fill="none" stroke="#000" stroke-width="3.75" stroke-linecap="round" stroke-linejoin="round"/>
<path d="M667,1500 C650,1510 635,1530 628,1560 C623,1590 632,1612 650,1622 L694,1613" fill="none" stroke="#000" stroke-width="3.75" stroke-linecap="round" stroke-linejoin="round"/>
<path d="M643,1500 C632,1520 625,1550 627,1590" fill="none" stroke="#000" stroke-width="3.25" stroke-linecap="round" stroke-linejoin="round"/>
<path d="M667,1500 C685,1488 708,1482 722,1490 C735,1498 740,1515 739,1532" fill="none" stroke="#000" stroke-width="3.75" stroke-linecap="round" stroke-linejoin="round"/>
<path d="M744,1500 C747,1510 747,1525 744,1535" fill="none" stroke="#000" stroke-width="3.75" stroke-linecap="round" stroke-linejoin="round"/>
<ellipse cx="673" cy="1475" rx="7" ry="4.5" transform="rotate(0 673 1475)" fill="#000" stroke="#000" stroke-width="0.00"/>
<ellipse cx="627.2" cy="1632.6" rx="2.5" ry="3.5" transform="rotate(20 627.2 1632.6)" fill="none" stroke="#000" stroke-width="3.00"/>
<ellipse cx="646.5" cy="1506.2" rx="2.5" ry="3.5" transform="rotate(20 646.5 1506.2)" fill="none" stroke="#000" stroke-width="3.00"/>
<ellipse cx="662.9" cy="1495.8" rx="2.5" ry="3.5" transform="rotate(20 662.9 1495.8)" fill="none" stroke="#000" stroke-width="3.00"/>
<ellipse cx="717.9" cy="1469.1" rx="2.5" ry="3.5" transform="rotate(20 717.9 1469.1)" fill="none" stroke="#000" stroke-width="3.00"/>
<path d="M693,1500 l6,-8 l2,10 l-4,4" fill="none" stroke="#000" stroke-width="3.25" stroke-linecap="round" stroke-linejoin="round"/>
<ellipse cx="712.9" cy="1569.6" rx="20" ry="28" transform="rotate(28 712.9 1569.6)" fill="#fbfefa" stroke="#000" stroke-width="3.75"/>
<polygon points="732.4,1548.4 705.6,1597.6 699.5,1594.2 726.2,1545.0" fill="#fbfefa" stroke="none"/>
<path d="M732.4,1548.4 L726.2,1545.0 M705.6,1597.6 L699.5,1594.2" stroke="#000" stroke-width="3.75" stroke-linecap="round"/>
<ellipse cx="719" cy="1573" rx="20" ry="28" transform="rotate(28 719 1573)" fill="#fbfefa" stroke="#000" stroke-width="3.75"/>
<ellipse cx="720" cy="1573" rx="13" ry="18" transform="rotate(28 720 1573)" fill="none" stroke="#000" stroke-width="4.00"/>
<path d="M716,1583 C712,1575 718,1562 726,1562" fill="none" stroke="#000" stroke-width="3.50" stroke-linecap="round" stroke-linejoin="round"/>
<path d="M720,1584 l4,-14" fill="none" stroke="#000" stroke-width="3.25" stroke-linecap="round" stroke-linejoin="round"/>
<polyline points="686.7,1512.2 765,1553" fill="none" stroke="#000" stroke-width="3.50" stroke-linecap="round" stroke-linejoin="round"/>
<polyline points="737.2,1586.5 786.3,1614.8" fill="none" stroke="#000" stroke-width="3.50" stroke-linecap="round" stroke-linejoin="round"/>
<polyline points="590,1501.8 618.3,1516.7" fill="none" stroke="#000" stroke-width="3.50" stroke-linecap="round" stroke-linejoin="round"/>
<polyline points="765,1555.5 789,1568" fill="none" stroke="#000" stroke-width="6.25" stroke-linecap="round" stroke-linejoin="round"/>
<ellipse cx="792.5" cy="1570.5" rx="5.5" ry="5.5" transform="rotate(0 792.5 1570.5)" fill="#000" stroke="#000" stroke-width="0.00"/>
<ellipse cx="797.5" cy="1620.1" rx="9.5" ry="12" transform="rotate(20 797.5 1620.1)" fill="#fbfefa" stroke="#000" stroke-width="4.5"/>
<polygon points="806.2,1611.2 795.8,1632.8 792.3,1630.8 802.7,1609.3" fill="#fbfefa" stroke="none"/>
<path d="M806.2,1611.2 L802.7,1609.3 M795.8,1632.8 L792.3,1630.8" stroke="#000" stroke-width="4.5" stroke-linecap="round"/>
<ellipse cx="801" cy="1622" rx="9.5" ry="12" transform="rotate(20 801 1622)" fill="#fbfefa" stroke="#000" stroke-width="4.5"/>
<ellipse cx="802" cy="1621.5" rx="4" ry="5.5" transform="rotate(20 802 1621.5)" fill="none" stroke="#000" stroke-width="3.25"/>
<polyline points="808,1628 840,1646" fill="none" stroke="#000" stroke-width="3.50" stroke-linecap="round" stroke-linejoin="round"/>
<ellipse cx="847.8" cy="1648.1" rx="12.5" ry="16" transform="rotate(20 847.8 1648.1)" fill="#fbfefa" stroke="#000" stroke-width="4.0"/>
<polygon points="859.9,1636.6 846.1,1665.4 840.9,1662.5 854.6,1633.7" fill="#fbfefa" stroke="none"/>
<path d="M859.9,1636.6 L854.6,1633.7 M846.1,1665.4 L840.9,1662.5" stroke="#000" stroke-width="4.0" stroke-linecap="round"/>
<ellipse cx="853" cy="1651" rx="12.5" ry="16" transform="rotate(20 853 1651)" fill="#fbfefa" stroke="#000" stroke-width="4.0"/>
<ellipse cx="854.5" cy="1651" rx="10" ry="13.5" transform="rotate(20 854.5 1651)" fill="#000" stroke="#000" stroke-width="0.00"/>
<ellipse cx="856" cy="1651" rx="2.5" ry="6" transform="rotate(20 856 1651)" fill="#fbfefa" stroke="#000" stroke-width="0.00"/>
<polyline points="864,1660 886,1671" fill="none" stroke="#000" stroke-width="3.50" stroke-linecap="round" stroke-linejoin="round"/>
<path d="M912,1668 C904,1664 895,1672 894,1684 C894,1694 902,1698 910,1693 C915,1689 917,1682 916,1676" fill="none" stroke="#000" stroke-width="4.50" stroke-linecap="round" stroke-linejoin="round"/>
<path d="M912,1668 l4,3" fill="none" stroke="#000" stroke-width="3.75" stroke-linecap="round" stroke-linejoin="round"/>
<polyline points="919,1688 937,1700" fill="none" stroke="#000" stroke-width="3.50" stroke-linecap="round" stroke-linejoin="round"/>
</svg></body></html>
